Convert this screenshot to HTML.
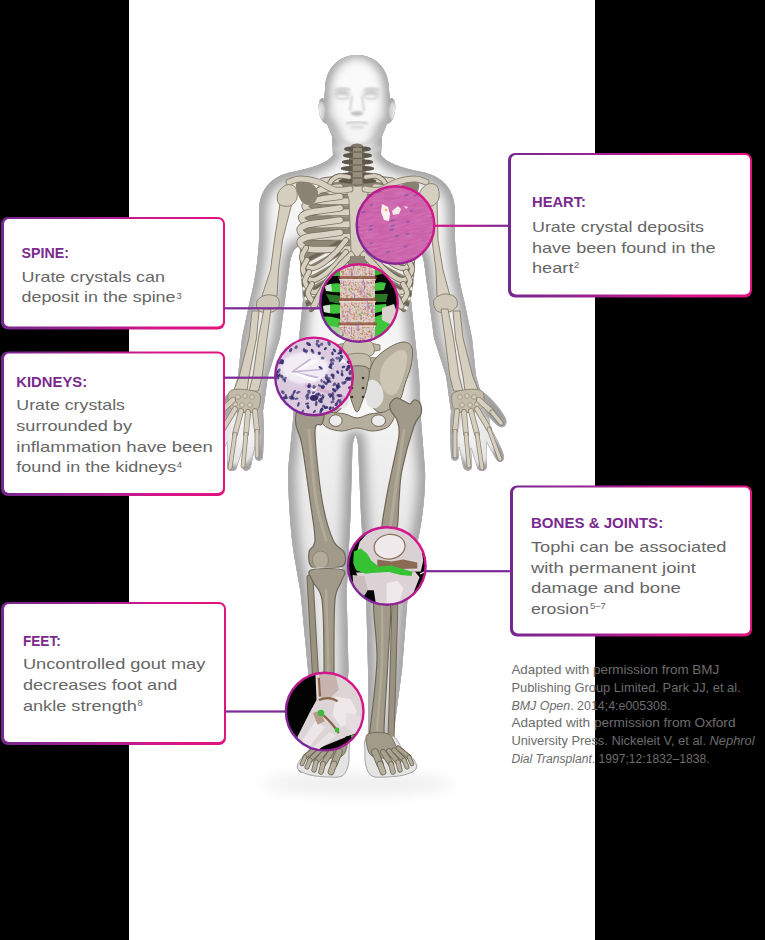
<!DOCTYPE html>
<html><head><meta charset="utf-8"><style>
html,body{margin:0;padding:0;background:#000;width:765px;height:940px;overflow:hidden}
svg{display:block;font-family:"Liberation Sans", sans-serif}
</style></head><body>
<svg width="765" height="940" viewBox="0 0 765 940"><defs><linearGradient id="gH" gradientUnits="userSpaceOnUse" x1="508" y1="0" x2="752" y2="0"><stop offset="0" stop-color="#76288f"/><stop offset="0.35" stop-color="#9a2290"/><stop offset="0.7" stop-color="#d6168a"/><stop offset="1" stop-color="#e0137f"/></linearGradient><linearGradient id="gS" gradientUnits="userSpaceOnUse" x1="1" y1="0" x2="225" y2="0"><stop offset="0" stop-color="#76288f"/><stop offset="0.35" stop-color="#9a2290"/><stop offset="0.7" stop-color="#d6168a"/><stop offset="1" stop-color="#e0137f"/></linearGradient><linearGradient id="gK" gradientUnits="userSpaceOnUse" x1="1" y1="0" x2="225" y2="0"><stop offset="0" stop-color="#76288f"/><stop offset="0.35" stop-color="#9a2290"/><stop offset="0.7" stop-color="#d6168a"/><stop offset="1" stop-color="#e0137f"/></linearGradient><linearGradient id="gB" gradientUnits="userSpaceOnUse" x1="510" y1="0" x2="752" y2="0"><stop offset="0" stop-color="#76288f"/><stop offset="0.35" stop-color="#9a2290"/><stop offset="0.7" stop-color="#d6168a"/><stop offset="1" stop-color="#e0137f"/></linearGradient><linearGradient id="gF" gradientUnits="userSpaceOnUse" x1="1" y1="0" x2="226" y2="0"><stop offset="0" stop-color="#76288f"/><stop offset="0.35" stop-color="#9a2290"/><stop offset="0.7" stop-color="#d6168a"/><stop offset="1" stop-color="#e0137f"/></linearGradient></defs>
<rect x="0" y="0" width="765" height="940" fill="#000"/>
<rect x="129" y="0" width="466" height="940" fill="#fff"/>
<defs>
<clipPath id="bodyclip"><path d="M357,55 C374,55 389,67 389,90 L390,99 C394,96 396,103 395,111 C394,119 391,123 387,124 L382,136 L381,155 C386,163 402,168 422,172 C442,176 454,188 455,210 L455,240 C456,262 460,285 464,300 L472,338 L476,376 L480,390 C490,396 500,408 505,417 C508,423 506,428 500,427 C496,425 492,420 489,417 L490,426 C495,436 502,448 504,456 C505,462 499,464 496,459 L487,443 L487,466 C487,472 478,473 477,467 L471,448 L472,467 C471,472 464,472 463,466 L459,447 L459,457 C458,462 451,462 451,456 L450,430 L451,411 C449,400 448,388 446,376 L434,338 L429,300 L424,262 C422,252 418,246 414,246 L411,300 L415,338 L419,376 L421,420 L425,470 C426,490 422,530 414,555 L408,593 L402,670 L393,738 C400,748 408,756 414,764 C417,770 414,773 408,773 L372,773 C369,773 368,770 369,760 L368,738 L368,670 L366,593 L361,516 L358,445 C357,437 355.5,434 354.5,437 L352.5,445 L350.5,516 L346.6,593 L348.5,670 L344,738 C345,750 346,760 345,768 C345,772 342,773 339,773 L303,773 C297,773 297,768 301,762 C306,754 312,746 314,738 L308,670 L300.6,593 L294,555 C290,530 288,490 288,470 L293,420 L295,376 L299,338 L303,300 L300,246 C296,246 292,252 290,262 L285,300 L280,338 L268,376 C266,388 265,400 263,411 L264,430 L263,456 C263,462 256,462 255,457 L255,447 L251,466 C250,472 243,472 242,467 L243,448 L237,467 C236,473 227,472 227,466 L227,443 L218,459 C215,464 209,462 210,456 C212,448 219,436 224,426 L225,417 C222,420 218,425 214,427 C208,428 206,423 209,417 C214,408 224,396 234,390 L238,376 L242,338 L250,300 C254,285 258,262 259,240 L259,210 C260,188 272,176 292,172 C312,168 328,163 333,155 L332,136 L327,124 C323,123 320,119 319,111 C318,103 320,96 324,99 L325,90 C325,67 340,55 357,55 Z"/></clipPath>
<filter id="blur4" x="-20%" y="-20%" width="140%" height="140%"><feGaussianBlur stdDeviation="6"/></filter>
<filter id="blur2" x="-20%" y="-20%" width="140%" height="140%"><feGaussianBlur stdDeviation="2"/></filter>
<filter id="blur8" x="-50%" y="-50%" width="200%" height="200%"><feGaussianBlur stdDeviation="7"/></filter>
</defs>
<ellipse cx="357" cy="784" rx="95" ry="11" fill="#efefef" filter="url(#blur8)"/>
<g clip-path="url(#bodyclip)">
<linearGradient id="legshade" gradientUnits="userSpaceOnUse" x1="0" y1="400" x2="0" y2="520"><stop offset="0" stop-color="#000" stop-opacity="0"/><stop offset="1" stop-color="#000" stop-opacity="0.05"/></linearGradient>
<rect x="200" y="40" width="320" height="760" fill="#f5f5f5"/>
<rect x="200" y="400" width="320" height="400" fill="url(#legshade)"/>
<path d="M357,55 C374,55 389,67 389,90 L390,99 C394,96 396,103 395,111 C394,119 391,123 387,124 L382,136 L381,155 C386,163 402,168 422,172 C442,176 454,188 455,210 L455,240 C456,262 460,285 464,300 L472,338 L476,376 L480,390 C490,396 500,408 505,417 C508,423 506,428 500,427 C496,425 492,420 489,417 L490,426 C495,436 502,448 504,456 C505,462 499,464 496,459 L487,443 L487,466 C487,472 478,473 477,467 L471,448 L472,467 C471,472 464,472 463,466 L459,447 L459,457 C458,462 451,462 451,456 L450,430 L451,411 C449,400 448,388 446,376 L434,338 L429,300 L424,262 C422,252 418,246 414,246 L411,300 L415,338 L419,376 L421,420 L425,470 C426,490 422,530 414,555 L408,593 L402,670 L393,738 C400,748 408,756 414,764 C417,770 414,773 408,773 L372,773 C369,773 368,770 369,760 L368,738 L368,670 L366,593 L361,516 L358,445 C357,437 355.5,434 354.5,437 L352.5,445 L350.5,516 L346.6,593 L348.5,670 L344,738 C345,750 346,760 345,768 C345,772 342,773 339,773 L303,773 C297,773 297,768 301,762 C306,754 312,746 314,738 L308,670 L300.6,593 L294,555 C290,530 288,490 288,470 L293,420 L295,376 L299,338 L303,300 L300,246 C296,246 292,252 290,262 L285,300 L280,338 L268,376 C266,388 265,400 263,411 L264,430 L263,456 C263,462 256,462 255,457 L255,447 L251,466 C250,472 243,472 242,467 L243,448 L237,467 C236,473 227,472 227,466 L227,443 L218,459 C215,464 209,462 210,456 C212,448 219,436 224,426 L225,417 C222,420 218,425 214,427 C208,428 206,423 209,417 C214,408 224,396 234,390 L238,376 L242,338 L250,300 C254,285 258,262 259,240 L259,210 C260,188 272,176 292,172 C312,168 328,163 333,155 L332,136 L327,124 C323,123 320,119 319,111 C318,103 320,96 324,99 L325,90 C325,67 340,55 357,55 Z" fill="none" stroke="#999999" stroke-width="14" filter="url(#blur4)"/>
<path d="M357,55 C374,55 389,67 389,90 L390,99 C394,96 396,103 395,111 C394,119 391,123 387,124 L382,136 L381,155 C386,163 402,168 422,172 C442,176 454,188 455,210 L455,240 C456,262 460,285 464,300 L472,338 L476,376 L480,390 C490,396 500,408 505,417 C508,423 506,428 500,427 C496,425 492,420 489,417 L490,426 C495,436 502,448 504,456 C505,462 499,464 496,459 L487,443 L487,466 C487,472 478,473 477,467 L471,448 L472,467 C471,472 464,472 463,466 L459,447 L459,457 C458,462 451,462 451,456 L450,430 L451,411 C449,400 448,388 446,376 L434,338 L429,300 L424,262 C422,252 418,246 414,246 L411,300 L415,338 L419,376 L421,420 L425,470 C426,490 422,530 414,555 L408,593 L402,670 L393,738 C400,748 408,756 414,764 C417,770 414,773 408,773 L372,773 C369,773 368,770 369,760 L368,738 L368,670 L366,593 L361,516 L358,445 C357,437 355.5,434 354.5,437 L352.5,445 L350.5,516 L346.6,593 L348.5,670 L344,738 C345,750 346,760 345,768 C345,772 342,773 339,773 L303,773 C297,773 297,768 301,762 C306,754 312,746 314,738 L308,670 L300.6,593 L294,555 C290,530 288,490 288,470 L293,420 L295,376 L299,338 L303,300 L300,246 C296,246 292,252 290,262 L285,300 L280,338 L268,376 C266,388 265,400 263,411 L264,430 L263,456 C263,462 256,462 255,457 L255,447 L251,466 C250,472 243,472 242,467 L243,448 L237,467 C236,473 227,472 227,466 L227,443 L218,459 C215,464 209,462 210,456 C212,448 219,436 224,426 L225,417 C222,420 218,425 214,427 C208,428 206,423 209,417 C214,408 224,396 234,390 L238,376 L242,338 L250,300 C254,285 258,262 259,240 L259,210 C260,188 272,176 292,172 C312,168 328,163 333,155 L332,136 L327,124 C323,123 320,119 319,111 C318,103 320,96 324,99 L325,90 C325,67 340,55 357,55 Z" fill="none" stroke="#a8a8a8" stroke-width="1.6"/>

<g id="handwash">
<ellipse cx="476" cy="440" rx="20" ry="26" fill="#f4f4f4" filter="url(#blur2)" opacity="0.85"/>
<ellipse cx="238" cy="440" rx="20" ry="26" fill="#f4f4f4" filter="url(#blur2)" opacity="0.85"/>
<path d="M357,55 C374,55 389,67 389,90 L390,99 C394,96 396,103 395,111 C394,119 391,123 387,124 L382,136 L381,155 C386,163 402,168 422,172 C442,176 454,188 455,210 L455,240 C456,262 460,285 464,300 L472,338 L476,376 L480,390 C490,396 500,408 505,417 C508,423 506,428 500,427 C496,425 492,420 489,417 L490,426 C495,436 502,448 504,456 C505,462 499,464 496,459 L487,443 L487,466 C487,472 478,473 477,467 L471,448 L472,467 C471,472 464,472 463,466 L459,447 L459,457 C458,462 451,462 451,456 L450,430 L451,411 C449,400 448,388 446,376 L434,338 L429,300 L424,262 C422,252 418,246 414,246 L411,300 L415,338 L419,376 L421,420 L425,470 C426,490 422,530 414,555 L408,593 L402,670 L393,738 C400,748 408,756 414,764 C417,770 414,773 408,773 L372,773 C369,773 368,770 369,760 L368,738 L368,670 L366,593 L361,516 L358,445 C357,437 355.5,434 354.5,437 L352.5,445 L350.5,516 L346.6,593 L348.5,670 L344,738 C345,750 346,760 345,768 C345,772 342,773 339,773 L303,773 C297,773 297,768 301,762 C306,754 312,746 314,738 L308,670 L300.6,593 L294,555 C290,530 288,490 288,470 L293,420 L295,376 L299,338 L303,300 L300,246 C296,246 292,252 290,262 L285,300 L280,338 L268,376 C266,388 265,400 263,411 L264,430 L263,456 C263,462 256,462 255,457 L255,447 L251,466 C250,472 243,472 242,467 L243,448 L237,467 C236,473 227,472 227,466 L227,443 L218,459 C215,464 209,462 210,456 C212,448 219,436 224,426 L225,417 C222,420 218,425 214,427 C208,428 206,423 209,417 C214,408 224,396 234,390 L238,376 L242,338 L250,300 C254,285 258,262 259,240 L259,210 C260,188 272,176 292,172 C312,168 328,163 333,155 L332,136 L327,124 C323,123 320,119 319,111 C318,103 320,96 324,99 L325,90 C325,67 340,55 357,55 Z" fill="none" stroke="#b0b0b0" stroke-width="1.2"/>
</g>
<g id="face">
<ellipse cx="357" cy="92" rx="24" ry="34" fill="#fafafa" filter="url(#blur4)"/>
<ellipse cx="357" cy="215" rx="42" ry="50" fill="#f8f8f8" filter="url(#blur4)" opacity="0.8"/>
<ellipse cx="357" cy="380" rx="45" ry="45" fill="#f8f8f8" filter="url(#blur4)" opacity="0.7"/>
<filter id="fb1" x="-50%" y="-50%" width="200%" height="200%"><feGaussianBlur stdDeviation="1.2"/></filter>
<filter id="fb2" x="-50%" y="-50%" width="200%" height="200%"><feGaussianBlur stdDeviation="2.2"/></filter>
<path d="M327,120 Q334,142 357,147 Q380,142 387,120" fill="none" stroke="#c2c2c2" stroke-width="3" filter="url(#fb2)"/>
<path d="M333,150 Q357,160 381,150 L381,146 Q357,152 333,146 Z" fill="#d0d0d0" filter="url(#fb2)"/>
<ellipse cx="342" cy="94" rx="8" ry="5" fill="#cacaca" filter="url(#fb2)"/>
<ellipse cx="371" cy="94" rx="8" ry="5" fill="#cacaca" filter="url(#fb2)"/>
<ellipse cx="342" cy="97" rx="5.5" ry="2.2" fill="#f4f4f4" filter="url(#fb1)"/>
<ellipse cx="371" cy="97" rx="5.5" ry="2.2" fill="#f4f4f4" filter="url(#fb1)"/>
<path d="M352,96 L350,111 M362,96 L364,111" stroke="#c8c8c8" stroke-width="1.6" filter="url(#fb1)"/>
<ellipse cx="357" cy="113.5" rx="6.5" ry="2.2" fill="#bcbcbc" filter="url(#fb1)"/>
<path d="M346,123.5 Q357,121 368,123.5" stroke="#b4b4b4" stroke-width="1.4" fill="none" filter="url(#fb1)"/>
<ellipse cx="357" cy="127" rx="8" ry="2" fill="#dedede" filter="url(#fb1)"/>
<ellipse cx="321" cy="111" rx="3.2" ry="9" fill="#ededed" filter="url(#fb1)"/>
<ellipse cx="393" cy="111" rx="3.2" ry="9" fill="#ededed" filter="url(#fb1)"/>
<path d="M321,103 Q323,111 322,119 M393,103 Q391,111 392,119" stroke="#c4c4c4" stroke-width="1.4" fill="none" filter="url(#fb1)"/>
<path d="M335,90 Q342,87 350,90 M364,90 Q372,87 379,90" stroke="#bdbdbd" stroke-width="1.6" fill="none" filter="url(#fb1)"/>
<path d="M337,98 Q342,100 348,98 M366,98 Q371,100 377,98" stroke="#c6c6c6" stroke-width="1.2" fill="none" filter="url(#fb1)"/>
</g>

</g>

<g id="bones">
<clipPath id="cageclip"><path d="M357.0,180.0 C350.5,180.0 343.8,177.3 338.0,178.0 C332.2,178.7 327.0,180.3 322.0,184.0 C317.0,187.7 311.5,192.3 308.0,200.0 C304.5,207.7 302.3,219.7 301.0,230.0 C299.7,240.3 299.7,251.7 300.0,262.0 C300.3,272.3 301.3,283.7 303.0,292.0 C304.7,300.3 306.8,310.7 310.0,312.0 C313.2,313.3 317.0,305.7 322.0,300.0 C327.0,294.3 334.2,284.3 340.0,278.0 C345.8,271.7 351.2,262.0 357.0,262.0 C362.8,262.0 369.0,271.7 375.0,278.0 C381.0,284.3 388.0,294.3 393.0,300.0 C398.0,305.7 401.8,313.3 405.0,312.0 C408.2,310.7 410.3,300.3 412.0,292.0 C413.7,283.7 414.7,272.3 415.0,262.0 C415.3,251.7 415.3,240.3 414.0,230.0 C412.7,219.7 410.5,207.7 407.0,200.0 C403.5,192.3 398.0,187.7 393.0,184.0 C388.0,180.3 383.0,178.7 377.0,178.0 C371.0,177.3 363.5,180.0 357.0,180.0 Z"/></clipPath><path d="M357.0,180.0 C350.5,180.0 343.8,177.3 338.0,178.0 C332.2,178.7 327.0,180.3 322.0,184.0 C317.0,187.7 311.5,192.3 308.0,200.0 C304.5,207.7 302.3,219.7 301.0,230.0 C299.7,240.3 299.7,251.7 300.0,262.0 C300.3,272.3 301.3,283.7 303.0,292.0 C304.7,300.3 306.8,310.7 310.0,312.0 C313.2,313.3 317.0,305.7 322.0,300.0 C327.0,294.3 334.2,284.3 340.0,278.0 C345.8,271.7 351.2,262.0 357.0,262.0 C362.8,262.0 369.0,271.7 375.0,278.0 C381.0,284.3 388.0,294.3 393.0,300.0 C398.0,305.7 401.8,313.3 405.0,312.0 C408.2,310.7 410.3,300.3 412.0,292.0 C413.7,283.7 414.7,272.3 415.0,262.0 C415.3,251.7 415.3,240.3 414.0,230.0 C412.7,219.7 410.5,207.7 407.0,200.0 C403.5,192.3 398.0,187.7 393.0,184.0 C388.0,180.3 383.0,178.7 377.0,178.0 C371.0,177.3 363.5,180.0 357.0,180.0 Z" fill="#8e8776" stroke="none" stroke-width="0" stroke-linejoin="round" />
<g clip-path="url(#cageclip)"><path d="M303.0,262.0 C306.2,260.3 314.8,256.0 322.0,252.0 C329.2,248.0 342.0,240.3 346.0,238.0 " fill="none" stroke="#6c6555" stroke-width="3.5" stroke-linecap="round" />
<path d="M412.0,262.0 C408.8,260.3 400.2,256.0 393.0,252.0 C385.8,248.0 373.0,240.3 369.0,238.0 " fill="none" stroke="#6c6555" stroke-width="3.5" stroke-linecap="round" />
<path d="M303.0,267.0 C306.2,265.3 314.8,261.0 322.0,257.0 C329.2,253.0 342.0,245.3 346.0,243.0 " fill="none" stroke="#efede8" stroke-width="3" stroke-linecap="round" />
<path d="M412.0,267.0 C408.8,265.3 400.2,261.0 393.0,257.0 C385.8,253.0 373.0,245.3 369.0,243.0 " fill="none" stroke="#efede8" stroke-width="3" stroke-linecap="round" />
<path d="M303.0,273.0 C306.2,271.3 314.8,267.0 322.0,263.0 C329.2,259.0 342.0,251.3 346.0,249.0 " fill="none" stroke="#6c6555" stroke-width="3.5" stroke-linecap="round" />
<path d="M412.0,273.0 C408.8,271.3 400.2,267.0 393.0,263.0 C385.8,259.0 373.0,251.3 369.0,249.0 " fill="none" stroke="#6c6555" stroke-width="3.5" stroke-linecap="round" />
<path d="M303.0,278.0 C306.2,276.3 314.8,272.0 322.0,268.0 C329.2,264.0 342.0,256.3 346.0,254.0 " fill="none" stroke="#efede8" stroke-width="3" stroke-linecap="round" />
<path d="M412.0,278.0 C408.8,276.3 400.2,272.0 393.0,268.0 C385.8,264.0 373.0,256.3 369.0,254.0 " fill="none" stroke="#efede8" stroke-width="3" stroke-linecap="round" />
<path d="M303.0,284.0 C306.2,282.3 314.8,278.0 322.0,274.0 C329.2,270.0 342.0,262.3 346.0,260.0 " fill="none" stroke="#6c6555" stroke-width="3.5" stroke-linecap="round" />
<path d="M412.0,284.0 C408.8,282.3 400.2,278.0 393.0,274.0 C385.8,270.0 373.0,262.3 369.0,260.0 " fill="none" stroke="#6c6555" stroke-width="3.5" stroke-linecap="round" />
<path d="M303.0,289.0 C306.2,287.3 314.8,283.0 322.0,279.0 C329.2,275.0 342.0,267.3 346.0,265.0 " fill="none" stroke="#efede8" stroke-width="3" stroke-linecap="round" />
<path d="M412.0,289.0 C408.8,287.3 400.2,283.0 393.0,279.0 C385.8,275.0 373.0,267.3 369.0,265.0 " fill="none" stroke="#efede8" stroke-width="3" stroke-linecap="round" />
<path d="M303.0,295.0 C306.2,293.3 314.8,289.0 322.0,285.0 C329.2,281.0 342.0,273.3 346.0,271.0 " fill="none" stroke="#6c6555" stroke-width="3.5" stroke-linecap="round" />
<path d="M412.0,295.0 C408.8,293.3 400.2,289.0 393.0,285.0 C385.8,281.0 373.0,273.3 369.0,271.0 " fill="none" stroke="#6c6555" stroke-width="3.5" stroke-linecap="round" />
<path d="M303.0,300.0 C306.2,298.3 314.8,294.0 322.0,290.0 C329.2,286.0 342.0,278.3 346.0,276.0 " fill="none" stroke="#efede8" stroke-width="3" stroke-linecap="round" />
<path d="M412.0,300.0 C408.8,298.3 400.2,294.0 393.0,290.0 C385.8,286.0 373.0,278.3 369.0,276.0 " fill="none" stroke="#efede8" stroke-width="3" stroke-linecap="round" />
<path d="M303.0,306.0 C306.2,304.3 314.8,300.0 322.0,296.0 C329.2,292.0 342.0,284.3 346.0,282.0 " fill="none" stroke="#6c6555" stroke-width="3.5" stroke-linecap="round" />
<path d="M412.0,306.0 C408.8,304.3 400.2,300.0 393.0,296.0 C385.8,292.0 373.0,284.3 369.0,282.0 " fill="none" stroke="#6c6555" stroke-width="3.5" stroke-linecap="round" />
<path d="M303.0,311.0 C306.2,309.3 314.8,305.0 322.0,301.0 C329.2,297.0 342.0,289.3 346.0,287.0 " fill="none" stroke="#efede8" stroke-width="3" stroke-linecap="round" />
<path d="M412.0,311.0 C408.8,309.3 400.2,305.0 393.0,301.0 C385.8,297.0 373.0,289.3 369.0,287.0 " fill="none" stroke="#efede8" stroke-width="3" stroke-linecap="round" />
<path d="M303.0,317.0 C306.2,315.3 314.8,311.0 322.0,307.0 C329.2,303.0 342.0,295.3 346.0,293.0 " fill="none" stroke="#6c6555" stroke-width="3.5" stroke-linecap="round" />
<path d="M412.0,317.0 C408.8,315.3 400.2,311.0 393.0,307.0 C385.8,303.0 373.0,295.3 369.0,293.0 " fill="none" stroke="#6c6555" stroke-width="3.5" stroke-linecap="round" />
<path d="M303.0,322.0 C306.2,320.3 314.8,316.0 322.0,312.0 C329.2,308.0 342.0,300.3 346.0,298.0 " fill="none" stroke="#efede8" stroke-width="3" stroke-linecap="round" />
<path d="M412.0,322.0 C408.8,320.3 400.2,316.0 393.0,312.0 C385.8,308.0 373.0,300.3 369.0,298.0 " fill="none" stroke="#efede8" stroke-width="3" stroke-linecap="round" />
</g><path d="M334,204 L348,204" stroke="#efeeea" stroke-width="2.4"/>
<path d="M381.0,204 L367.0,204" stroke="#efeeea" stroke-width="2.4"/>
<path d="M332,215 L348,215" stroke="#efeeea" stroke-width="2.4"/>
<path d="M383.0,215 L367.0,215" stroke="#efeeea" stroke-width="2.4"/>
<path d="M330,227 L348,227" stroke="#efeeea" stroke-width="2.4"/>
<path d="M385.0,227 L367.0,227" stroke="#efeeea" stroke-width="2.4"/>
<path d="M332,239 L348,239" stroke="#efeeea" stroke-width="2.4"/>
<path d="M383.0,239 L367.0,239" stroke="#efeeea" stroke-width="2.4"/>
<path d="M351.0,191.0 C347.8,191.1 335.5,191.5 332.0,191.5 C328.5,191.5 331.7,191.7 330.0,191.0 C328.3,190.3 322.3,188.3 322.0,187.2 C321.7,186.0 328.0,184.9 328.0,184.0 C328.0,183.1 320.0,182.3 322.0,181.5 C324.0,180.7 337.0,179.4 340.0,179.0 " fill="none" stroke="#7a7363" stroke-width="7.2" stroke-linecap="round" />
<path d="M351.0,191.0 C347.8,191.1 335.5,191.5 332.0,191.5 C328.5,191.5 331.7,191.7 330.0,191.0 C328.3,190.3 322.3,188.3 322.0,187.2 C321.7,186.0 328.0,184.9 328.0,184.0 C328.0,183.1 320.0,182.3 322.0,181.5 C324.0,180.7 337.0,179.4 340.0,179.0 " fill="none" stroke="#dad3c5" stroke-width="5.6" stroke-linecap="round" />
<path d="M364.0,191.0 C367.2,191.1 379.5,191.5 383.0,191.5 C386.5,191.5 383.3,191.7 385.0,191.0 C386.7,190.3 392.7,188.3 393.0,187.2 C393.3,186.0 387.0,184.9 387.0,184.0 C387.0,183.1 395.0,182.3 393.0,181.5 C391.0,180.7 378.0,179.4 375.0,179.0 " fill="none" stroke="#7a7363" stroke-width="7.2" stroke-linecap="round" />
<path d="M364.0,191.0 C367.2,191.1 379.5,191.5 383.0,191.5 C386.5,191.5 383.3,191.7 385.0,191.0 C386.7,190.3 392.7,188.3 393.0,187.2 C393.3,186.0 387.0,184.9 387.0,184.0 C387.0,183.1 395.0,182.3 393.0,181.5 C391.0,180.7 378.0,179.4 375.0,179.0 " fill="none" stroke="#dad3c5" stroke-width="5.6" stroke-linecap="round" />
<path d="M351.0,201.0 C347.8,201.1 337.3,201.5 332.0,201.5 C326.7,201.5 322.5,201.9 319.0,201.0 C315.5,200.1 311.3,197.6 311.0,196.1 C310.7,194.6 315.2,193.1 317.0,192.0 C318.8,190.9 318.2,190.3 322.0,189.5 C325.8,188.7 337.0,187.4 340.0,187.0 " fill="none" stroke="#7a7363" stroke-width="7.2" stroke-linecap="round" />
<path d="M351.0,201.0 C347.8,201.1 337.3,201.5 332.0,201.5 C326.7,201.5 322.5,201.9 319.0,201.0 C315.5,200.1 311.3,197.6 311.0,196.1 C310.7,194.6 315.2,193.1 317.0,192.0 C318.8,190.9 318.2,190.3 322.0,189.5 C325.8,188.7 337.0,187.4 340.0,187.0 " fill="none" stroke="#dad3c5" stroke-width="5.6" stroke-linecap="round" />
<path d="M364.0,201.0 C367.2,201.1 377.7,201.5 383.0,201.5 C388.3,201.5 392.5,201.9 396.0,201.0 C399.5,200.1 403.7,197.6 404.0,196.1 C404.3,194.6 399.8,193.1 398.0,192.0 C396.2,190.9 396.8,190.3 393.0,189.5 C389.2,188.7 378.0,187.4 375.0,187.0 " fill="none" stroke="#7a7363" stroke-width="7.2" stroke-linecap="round" />
<path d="M364.0,201.0 C367.2,201.1 377.7,201.5 383.0,201.5 C388.3,201.5 392.5,201.9 396.0,201.0 C399.5,200.1 403.7,197.6 404.0,196.1 C404.3,194.6 399.8,193.1 398.0,192.0 C396.2,190.9 396.8,190.3 393.0,189.5 C389.2,188.7 378.0,187.4 375.0,187.0 " fill="none" stroke="#dad3c5" stroke-width="5.6" stroke-linecap="round" />
<path d="M351.0,212.0 C347.8,212.1 338.3,212.5 332.0,212.5 C325.7,212.5 317.5,213.0 313.0,212.0 C308.5,211.0 305.3,208.0 305.0,206.2 C304.7,204.5 308.2,202.7 311.0,201.5 C313.8,200.3 317.2,199.8 322.0,199.0 C326.8,198.2 337.0,196.9 340.0,196.5 " fill="none" stroke="#7a7363" stroke-width="7.2" stroke-linecap="round" />
<path d="M351.0,212.0 C347.8,212.1 338.3,212.5 332.0,212.5 C325.7,212.5 317.5,213.0 313.0,212.0 C308.5,211.0 305.3,208.0 305.0,206.2 C304.7,204.5 308.2,202.7 311.0,201.5 C313.8,200.3 317.2,199.8 322.0,199.0 C326.8,198.2 337.0,196.9 340.0,196.5 " fill="none" stroke="#dad3c5" stroke-width="5.6" stroke-linecap="round" />
<path d="M364.0,212.0 C367.2,212.1 376.7,212.5 383.0,212.5 C389.3,212.5 397.5,213.0 402.0,212.0 C406.5,211.0 409.7,208.0 410.0,206.2 C410.3,204.5 406.8,202.7 404.0,201.5 C401.2,200.3 397.8,199.8 393.0,199.0 C388.2,198.2 378.0,196.9 375.0,196.5 " fill="none" stroke="#7a7363" stroke-width="7.2" stroke-linecap="round" />
<path d="M364.0,212.0 C367.2,212.1 376.7,212.5 383.0,212.5 C389.3,212.5 397.5,213.0 402.0,212.0 C406.5,211.0 409.7,208.0 410.0,206.2 C410.3,204.5 406.8,202.7 404.0,201.5 C401.2,200.3 397.8,199.8 393.0,199.0 C388.2,198.2 378.0,196.9 375.0,196.5 " fill="none" stroke="#dad3c5" stroke-width="5.6" stroke-linecap="round" />
<path d="M351.0,224.0 C347.8,224.1 338.9,224.5 332.0,224.5 C325.1,224.5 314.6,225.1 309.5,224.0 C304.4,222.9 301.8,219.8 301.5,217.9 C301.2,216.1 304.1,214.2 307.5,213.0 C310.9,211.8 316.6,211.3 322.0,210.5 C327.4,209.7 337.0,208.4 340.0,208.0 " fill="none" stroke="#7a7363" stroke-width="7.2" stroke-linecap="round" />
<path d="M351.0,224.0 C347.8,224.1 338.9,224.5 332.0,224.5 C325.1,224.5 314.6,225.1 309.5,224.0 C304.4,222.9 301.8,219.8 301.5,217.9 C301.2,216.1 304.1,214.2 307.5,213.0 C310.9,211.8 316.6,211.3 322.0,210.5 C327.4,209.7 337.0,208.4 340.0,208.0 " fill="none" stroke="#dad3c5" stroke-width="5.6" stroke-linecap="round" />
<path d="M364.0,224.0 C367.2,224.1 376.1,224.5 383.0,224.5 C389.9,224.5 400.4,225.1 405.5,224.0 C410.6,222.9 413.2,219.8 413.5,217.9 C413.8,216.1 410.9,214.2 407.5,213.0 C404.1,211.8 398.4,211.3 393.0,210.5 C387.6,209.7 378.0,208.4 375.0,208.0 " fill="none" stroke="#7a7363" stroke-width="7.2" stroke-linecap="round" />
<path d="M364.0,224.0 C367.2,224.1 376.1,224.5 383.0,224.5 C389.9,224.5 400.4,225.1 405.5,224.0 C410.6,222.9 413.2,219.8 413.5,217.9 C413.8,216.1 410.9,214.2 407.5,213.0 C404.1,211.8 398.4,211.3 393.0,210.5 C387.6,209.7 378.0,208.4 375.0,208.0 " fill="none" stroke="#dad3c5" stroke-width="5.6" stroke-linecap="round" />
<path d="M351.0,236.5 C347.8,236.6 339.2,237.0 332.0,237.0 C324.8,237.0 313.3,237.6 308.0,236.5 C302.7,235.4 300.3,232.1 300.0,230.2 C299.7,228.3 302.3,226.3 306.0,225.0 C309.7,223.7 316.3,223.3 322.0,222.5 C327.7,221.7 337.0,220.4 340.0,220.0 " fill="none" stroke="#7a7363" stroke-width="7.2" stroke-linecap="round" />
<path d="M351.0,236.5 C347.8,236.6 339.2,237.0 332.0,237.0 C324.8,237.0 313.3,237.6 308.0,236.5 C302.7,235.4 300.3,232.1 300.0,230.2 C299.7,228.3 302.3,226.3 306.0,225.0 C309.7,223.7 316.3,223.3 322.0,222.5 C327.7,221.7 337.0,220.4 340.0,220.0 " fill="none" stroke="#dad3c5" stroke-width="5.6" stroke-linecap="round" />
<path d="M364.0,236.5 C367.2,236.6 375.8,237.0 383.0,237.0 C390.2,237.0 401.7,237.6 407.0,236.5 C412.3,235.4 414.7,232.1 415.0,230.2 C415.3,228.3 412.7,226.3 409.0,225.0 C405.3,223.7 398.7,223.3 393.0,222.5 C387.3,221.7 378.0,220.4 375.0,220.0 " fill="none" stroke="#7a7363" stroke-width="7.2" stroke-linecap="round" />
<path d="M364.0,236.5 C367.2,236.6 375.8,237.0 383.0,237.0 C390.2,237.0 401.7,237.6 407.0,236.5 C412.3,235.4 414.7,232.1 415.0,230.2 C415.3,228.3 412.7,226.3 409.0,225.0 C405.3,223.7 398.7,223.3 393.0,222.5 C387.3,221.7 378.0,220.4 375.0,220.0 " fill="none" stroke="#dad3c5" stroke-width="5.6" stroke-linecap="round" />
<path d="M351.0,249.0 C347.8,249.1 339.2,249.5 332.0,249.5 C324.8,249.5 313.3,250.1 308.0,249.0 C302.7,247.9 300.3,244.6 300.0,242.7 C299.7,240.8 302.3,238.8 306.0,237.5 C309.7,236.2 316.3,235.8 322.0,235.0 C327.7,234.2 337.0,232.9 340.0,232.5 " fill="none" stroke="#7a7363" stroke-width="7.2" stroke-linecap="round" />
<path d="M351.0,249.0 C347.8,249.1 339.2,249.5 332.0,249.5 C324.8,249.5 313.3,250.1 308.0,249.0 C302.7,247.9 300.3,244.6 300.0,242.7 C299.7,240.8 302.3,238.8 306.0,237.5 C309.7,236.2 316.3,235.8 322.0,235.0 C327.7,234.2 337.0,232.9 340.0,232.5 " fill="none" stroke="#dad3c5" stroke-width="5.6" stroke-linecap="round" />
<path d="M364.0,249.0 C367.2,249.1 375.8,249.5 383.0,249.5 C390.2,249.5 401.7,250.1 407.0,249.0 C412.3,247.9 414.7,244.6 415.0,242.7 C415.3,240.8 412.7,238.8 409.0,237.5 C405.3,236.2 398.7,235.8 393.0,235.0 C387.3,234.2 378.0,232.9 375.0,232.5 " fill="none" stroke="#7a7363" stroke-width="7.2" stroke-linecap="round" />
<path d="M364.0,249.0 C367.2,249.1 375.8,249.5 383.0,249.5 C390.2,249.5 401.7,250.1 407.0,249.0 C412.3,247.9 414.7,244.6 415.0,242.7 C415.3,240.8 412.7,238.8 409.0,237.5 C405.3,236.2 398.7,235.8 393.0,235.0 C387.3,234.2 378.0,232.9 375.0,232.5 " fill="none" stroke="#dad3c5" stroke-width="5.6" stroke-linecap="round" />
<path d="M306.0,248.0 C305.3,249.7 301.3,254.7 302.0,258.0 C302.7,261.3 306.7,267.0 310.0,268.0 C313.3,269.0 317.7,266.7 322.0,264.0 C326.3,261.3 332.0,256.0 336.0,252.0 C340.0,248.0 344.3,242.0 346.0,240.0 " fill="none" stroke="#756e5e" stroke-width="6" stroke-linecap="round" />
<path d="M306.0,248.0 C305.3,249.7 301.3,254.7 302.0,258.0 C302.7,261.3 306.7,267.0 310.0,268.0 C313.3,269.0 317.7,266.7 322.0,264.0 C326.3,261.3 332.0,256.0 336.0,252.0 C340.0,248.0 344.3,242.0 346.0,240.0 " fill="none" stroke="#d6cfc0" stroke-width="4.4" stroke-linecap="round" />
<path d="M409.0,248.0 C409.7,249.7 413.7,254.7 413.0,258.0 C412.3,261.3 408.3,267.0 405.0,268.0 C401.7,269.0 397.3,266.7 393.0,264.0 C388.7,261.3 383.0,256.0 379.0,252.0 C375.0,248.0 370.7,242.0 369.0,240.0 " fill="none" stroke="#756e5e" stroke-width="6" stroke-linecap="round" />
<path d="M409.0,248.0 C409.7,249.7 413.7,254.7 413.0,258.0 C412.3,261.3 408.3,267.0 405.0,268.0 C401.7,269.0 397.3,266.7 393.0,264.0 C388.7,261.3 383.0,256.0 379.0,252.0 C375.0,248.0 370.7,242.0 369.0,240.0 " fill="none" stroke="#d6cfc0" stroke-width="4.4" stroke-linecap="round" />
<path d="M307.0,260.0 C306.3,261.7 302.3,266.7 303.0,270.0 C303.7,273.3 307.8,279.0 311.0,280.0 C314.2,281.0 317.8,278.7 322.0,276.0 C326.2,273.3 332.0,268.0 336.0,264.0 C340.0,260.0 344.3,254.0 346.0,252.0 " fill="none" stroke="#756e5e" stroke-width="6" stroke-linecap="round" />
<path d="M307.0,260.0 C306.3,261.7 302.3,266.7 303.0,270.0 C303.7,273.3 307.8,279.0 311.0,280.0 C314.2,281.0 317.8,278.7 322.0,276.0 C326.2,273.3 332.0,268.0 336.0,264.0 C340.0,260.0 344.3,254.0 346.0,252.0 " fill="none" stroke="#d6cfc0" stroke-width="4.4" stroke-linecap="round" />
<path d="M408.0,260.0 C408.7,261.7 412.7,266.7 412.0,270.0 C411.3,273.3 407.2,279.0 404.0,280.0 C400.8,281.0 397.2,278.7 393.0,276.0 C388.8,273.3 383.0,268.0 379.0,264.0 C375.0,260.0 370.7,254.0 369.0,252.0 " fill="none" stroke="#756e5e" stroke-width="6" stroke-linecap="round" />
<path d="M408.0,260.0 C408.7,261.7 412.7,266.7 412.0,270.0 C411.3,273.3 407.2,279.0 404.0,280.0 C400.8,281.0 397.2,278.7 393.0,276.0 C388.8,273.3 383.0,268.0 379.0,264.0 C375.0,260.0 370.7,254.0 369.0,252.0 " fill="none" stroke="#d6cfc0" stroke-width="4.4" stroke-linecap="round" />
<path d="M309.0,272.0 C308.3,273.7 304.3,278.7 305.0,282.0 C305.7,285.3 310.2,291.0 313.0,292.0 C315.8,293.0 318.2,290.7 322.0,288.0 C325.8,285.3 332.0,280.0 336.0,276.0 C340.0,272.0 344.3,266.0 346.0,264.0 " fill="none" stroke="#756e5e" stroke-width="6" stroke-linecap="round" />
<path d="M309.0,272.0 C308.3,273.7 304.3,278.7 305.0,282.0 C305.7,285.3 310.2,291.0 313.0,292.0 C315.8,293.0 318.2,290.7 322.0,288.0 C325.8,285.3 332.0,280.0 336.0,276.0 C340.0,272.0 344.3,266.0 346.0,264.0 " fill="none" stroke="#d6cfc0" stroke-width="4.4" stroke-linecap="round" />
<path d="M406.0,272.0 C406.7,273.7 410.7,278.7 410.0,282.0 C409.3,285.3 404.8,291.0 402.0,292.0 C399.2,293.0 396.8,290.7 393.0,288.0 C389.2,285.3 383.0,280.0 379.0,276.0 C375.0,272.0 370.7,266.0 369.0,264.0 " fill="none" stroke="#756e5e" stroke-width="6" stroke-linecap="round" />
<path d="M406.0,272.0 C406.7,273.7 410.7,278.7 410.0,282.0 C409.3,285.3 404.8,291.0 402.0,292.0 C399.2,293.0 396.8,290.7 393.0,288.0 C389.2,285.3 383.0,280.0 379.0,276.0 C375.0,272.0 370.7,266.0 369.0,264.0 " fill="none" stroke="#d6cfc0" stroke-width="4.4" stroke-linecap="round" />
<path d="M312.0,284.0 C311.3,285.7 307.3,290.7 308.0,294.0 C308.7,297.3 313.7,303.0 316.0,304.0 C318.3,305.0 318.7,302.7 322.0,300.0 C325.3,297.3 332.0,292.0 336.0,288.0 C340.0,284.0 344.3,278.0 346.0,276.0 " fill="none" stroke="#756e5e" stroke-width="6" stroke-linecap="round" />
<path d="M312.0,284.0 C311.3,285.7 307.3,290.7 308.0,294.0 C308.7,297.3 313.7,303.0 316.0,304.0 C318.3,305.0 318.7,302.7 322.0,300.0 C325.3,297.3 332.0,292.0 336.0,288.0 C340.0,284.0 344.3,278.0 346.0,276.0 " fill="none" stroke="#d6cfc0" stroke-width="4.4" stroke-linecap="round" />
<path d="M403.0,284.0 C403.7,285.7 407.7,290.7 407.0,294.0 C406.3,297.3 401.3,303.0 399.0,304.0 C396.7,305.0 396.3,302.7 393.0,300.0 C389.7,297.3 383.0,292.0 379.0,288.0 C375.0,284.0 370.7,278.0 369.0,276.0 " fill="none" stroke="#756e5e" stroke-width="6" stroke-linecap="round" />
<path d="M403.0,284.0 C403.7,285.7 407.7,290.7 407.0,294.0 C406.3,297.3 401.3,303.0 399.0,304.0 C396.7,305.0 396.3,302.7 393.0,300.0 C389.7,297.3 383.0,292.0 379.0,288.0 C375.0,284.0 370.7,278.0 369.0,276.0 " fill="none" stroke="#d6cfc0" stroke-width="4.4" stroke-linecap="round" />
<path d="M352.0,254.0 C350.0,256.0 344.3,261.0 340.0,266.0 C335.7,271.0 330.3,277.3 326.0,284.0 C321.7,290.7 316.0,302.3 314.0,306.0 " fill="none" stroke="#756e5e" stroke-width="7" stroke-linecap="round" />
<path d="M352.0,254.0 C350.0,256.0 344.3,261.0 340.0,266.0 C335.7,271.0 330.3,277.3 326.0,284.0 C321.7,290.7 316.0,302.3 314.0,306.0 " fill="none" stroke="#d6cfc0" stroke-width="5.4" stroke-linecap="round" />
<path d="M363.0,254.0 C365.0,256.0 370.7,261.0 375.0,266.0 C379.3,271.0 384.7,277.3 389.0,284.0 C393.3,290.7 399.0,302.3 401.0,306.0 " fill="none" stroke="#756e5e" stroke-width="7" stroke-linecap="round" />
<path d="M363.0,254.0 C365.0,256.0 370.7,261.0 375.0,266.0 C379.3,271.0 384.7,277.3 389.0,284.0 C393.3,290.7 399.0,302.3 401.0,306.0 " fill="none" stroke="#d6cfc0" stroke-width="5.4" stroke-linecap="round" />
<path d="M345.0,186.0 L370.0,186.0 L366.0,200.0 L364.0,250.0 L357.0,258.0 L351.0,250.0 L349.0,200.0 Z" fill="#d6cfc0" stroke="#8b8373" stroke-width="1" stroke-linejoin="round" />
<path d="M351.0,146.0 C353.3,142.8 360.7,142.8 363.0,146.0 C365.3,149.2 364.7,158.7 365.0,165.0 C365.3,171.3 367.7,180.8 365.0,184.0 C362.3,187.2 351.7,187.2 349.0,184.0 C346.3,180.8 348.7,171.3 349.0,165.0 C349.3,158.7 348.7,149.2 351.0,146.0 Z" fill="#81786a" stroke="none" stroke-width="0" stroke-linejoin="round" />
<ellipse cx="350.5" cy="149" rx="6.5" ry="2.4" fill="#5e564a"/><ellipse cx="364.5" cy="149" rx="6.5" ry="2.4" fill="#5e564a"/><ellipse cx="350.1" cy="155.5" rx="7.2" ry="2.4" fill="#5e564a"/><ellipse cx="364.9" cy="155.5" rx="7.2" ry="2.4" fill="#5e564a"/><ellipse cx="349.7" cy="162" rx="7.9" ry="2.4" fill="#5e564a"/><ellipse cx="365.3" cy="162" rx="7.9" ry="2.4" fill="#5e564a"/><ellipse cx="349.3" cy="168.5" rx="8.6" ry="2.4" fill="#5e564a"/><ellipse cx="365.7" cy="168.5" rx="8.6" ry="2.4" fill="#5e564a"/><ellipse cx="348.9" cy="175" rx="9.3" ry="2.4" fill="#5e564a"/><ellipse cx="366.1" cy="175" rx="9.3" ry="2.4" fill="#5e564a"/><ellipse cx="348.5" cy="181" rx="10.0" ry="2.4" fill="#5e564a"/><ellipse cx="366.5" cy="181" rx="10.0" ry="2.4" fill="#5e564a"/><path d="M353.0,148.0 L362.0,148.0 L362.5,184.0 L352.5,184.0 Z" fill="#978d7c" stroke="none" stroke-width="0" stroke-linejoin="round" />
<path d="M352,152 L363,152" stroke="#6a6255" stroke-width="1.2"/><path d="M352,158.5 L363,158.5" stroke="#6a6255" stroke-width="1.2"/><path d="M352,165 L363,165" stroke="#6a6255" stroke-width="1.2"/><path d="M352,171.5 L363,171.5" stroke="#6a6255" stroke-width="1.2"/><path d="M352,178 L363,178" stroke="#6a6255" stroke-width="1.2"/><path d="M349.0,177.0 C347.3,176.8 341.8,175.5 339.0,176.0 C336.2,176.5 333.8,178.2 332.0,180.0 C330.2,181.8 328.7,185.8 328.0,187.0 " fill="none" stroke="#6f6858" stroke-width="5.5" stroke-linecap="round" />
<path d="M349.0,177.0 C347.3,176.8 341.8,175.5 339.0,176.0 C336.2,176.5 333.8,178.2 332.0,180.0 C330.2,181.8 328.7,185.8 328.0,187.0 " fill="none" stroke="#d6cfc0" stroke-width="3.8" stroke-linecap="round" />
<path d="M366.0,177.0 C367.7,176.8 373.2,175.5 376.0,176.0 C378.8,176.5 381.2,178.2 383.0,180.0 C384.8,181.8 386.3,185.8 387.0,187.0 " fill="none" stroke="#6f6858" stroke-width="5.5" stroke-linecap="round" />
<path d="M366.0,177.0 C367.7,176.8 373.2,175.5 376.0,176.0 C378.8,176.5 381.2,178.2 383.0,180.0 C384.8,181.8 386.3,185.8 387.0,187.0 " fill="none" stroke="#d6cfc0" stroke-width="3.8" stroke-linecap="round" />
<path d="M350.0,189.0 C347.5,189.2 340.3,191.2 335.0,190.0 C329.7,188.8 323.8,183.8 318.0,182.0 C312.2,180.2 304.8,179.0 300.0,179.0 C295.2,179.0 290.8,181.5 289.0,182.0 " fill="none" stroke="#8b8373" stroke-width="7" stroke-linecap="round" />
<path d="M350.0,189.0 C347.5,189.2 340.3,191.2 335.0,190.0 C329.7,188.8 323.8,183.8 318.0,182.0 C312.2,180.2 304.8,179.0 300.0,179.0 C295.2,179.0 290.8,181.5 289.0,182.0 " fill="none" stroke="#d6cfc0" stroke-width="5" stroke-linecap="round" />
<path d="M365.0,189.0 C367.5,189.2 374.7,191.2 380.0,190.0 C385.3,188.8 391.2,183.8 397.0,182.0 C402.8,180.2 410.2,179.0 415.0,179.0 C419.8,179.0 424.2,181.5 426.0,182.0 " fill="none" stroke="#8b8373" stroke-width="7" stroke-linecap="round" />
<path d="M365.0,189.0 C367.5,189.2 374.7,191.2 380.0,190.0 C385.3,188.8 391.2,183.8 397.0,182.0 C402.8,180.2 410.2,179.0 415.0,179.0 C419.8,179.0 424.2,181.5 426.0,182.0 " fill="none" stroke="#d6cfc0" stroke-width="5" stroke-linecap="round" />
<path d="M296.0,184.0 C297.3,180.8 306.3,181.7 310.0,183.0 C313.7,184.3 317.5,188.5 318.0,192.0 C318.5,195.5 315.7,202.3 313.0,204.0 C310.3,205.7 304.8,205.3 302.0,202.0 C299.2,198.7 294.7,187.2 296.0,184.0 Z" fill="#8a8272" stroke="none" stroke-width="0" stroke-linejoin="round" />
<path d="M419.0,184.0 C417.7,180.8 408.7,181.7 405.0,183.0 C401.3,184.3 397.5,188.5 397.0,192.0 C396.5,195.5 399.3,202.3 402.0,204.0 C404.7,205.7 410.2,205.3 413.0,202.0 C415.8,198.7 420.3,187.2 419.0,184.0 Z" fill="#8a8272" stroke="none" stroke-width="0" stroke-linejoin="round" />
<path d="M280.0,204.0 L292.0,203.0 L282.5,240.0 L278.5,270.0 L277.0,296.0 L262.0,296.0 L270.5,270.0 L274.5,240.0 Z" fill="#d6cfc0" stroke="#8b8373" stroke-width="1" stroke-linejoin="round" />
<path d="M278.0,193.0 C279.2,189.8 283.2,186.0 286.0,185.0 C288.8,184.0 293.2,184.8 295.0,187.0 C296.8,189.2 297.8,194.8 297.0,198.0 C296.2,201.2 293.0,205.0 290.0,206.0 C287.0,207.0 281.0,206.2 279.0,204.0 C277.0,201.8 276.8,196.2 278.0,193.0 Z" fill="#d6cfc0" stroke="#8b8373" stroke-width="1" stroke-linejoin="round" />
<path d="M257.0,301.0 C258.2,298.3 262.7,295.7 266.0,295.0 C269.3,294.3 274.8,295.2 277.0,297.0 C279.2,298.8 279.8,303.5 279.0,306.0 C278.2,308.5 275.3,311.2 272.0,312.0 C268.7,312.8 261.5,312.8 259.0,311.0 C256.5,309.2 255.8,303.7 257.0,301.0 Z" fill="#cfc8b8" stroke="#8b8373" stroke-width="1" stroke-linejoin="round" />
<path d="M271.0,309.0 L264.0,309.0 L258.4,338.0 L253.0,376.0 L249.0,391.0 L258.4,391.0 L262.2,376.0 L267.0,338.0 Z" fill="#d6cfc0" stroke="#8b8373" stroke-width="1" stroke-linejoin="round" />
<path d="M259.0,311.0 L252.0,311.0 L249.0,338.0 L239.3,376.0 L233.5,391.0 L247.0,391.0 L249.0,376.0 L256.5,338.0 Z" fill="#d6cfc0" stroke="#8b8373" stroke-width="1" stroke-linejoin="round" />
<path d="M257.0,392.0 C252.3,389.8 236.8,388.3 232.0,390.0 C227.2,391.7 227.7,398.5 228.0,402.0 C228.3,405.5 229.7,409.3 234.0,411.0 C238.3,412.7 249.7,413.3 254.0,412.0 C258.3,410.7 259.5,406.3 260.0,403.0 C260.5,399.7 261.7,394.2 257.0,392.0 Z" fill="#c4bcab" stroke="#8b8373" stroke-width="1" stroke-linejoin="round" />
<circle cx="252.0" cy="397" r="2.4" fill="#d3ccbc" stroke="#8b8373" stroke-width="0.6"/>
<circle cx="245.0" cy="396" r="2.4" fill="#d3ccbc" stroke="#8b8373" stroke-width="0.6"/>
<circle cx="238.0" cy="397" r="2.4" fill="#d3ccbc" stroke="#8b8373" stroke-width="0.6"/>
<circle cx="250.0" cy="405" r="2.4" fill="#d3ccbc" stroke="#8b8373" stroke-width="0.6"/>
<circle cx="242.0" cy="405" r="2.4" fill="#d3ccbc" stroke="#8b8373" stroke-width="0.6"/>
<circle cx="235.0" cy="404" r="2.4" fill="#d3ccbc" stroke="#8b8373" stroke-width="0.6"/>
<path d="M255.0,411.0 L257.0,431.0" stroke="#8b8373" stroke-width="5.8" stroke-linecap="round" fill="none" /><path d="M255.0,411.0 L257.0,431.0" stroke="#d6cfc0" stroke-width="4.2" stroke-linecap="round" fill="none" />
<path d="M257.0,431.0 L257.0,456.0" stroke="#8b8373" stroke-width="4.7" stroke-linecap="round" fill="none" /><path d="M257.0,431.0 L257.0,456.0" stroke="#d6cfc0" stroke-width="3.1" stroke-linecap="round" fill="none" />
<path d="M248.0,412.0 L246.0,434.0" stroke="#8b8373" stroke-width="5.8" stroke-linecap="round" fill="none" /><path d="M248.0,412.0 L246.0,434.0" stroke="#d6cfc0" stroke-width="4.2" stroke-linecap="round" fill="none" />
<path d="M246.0,434.0 L243.0,466.0" stroke="#8b8373" stroke-width="4.7" stroke-linecap="round" fill="none" /><path d="M246.0,434.0 L243.0,466.0" stroke="#d6cfc0" stroke-width="3.1" stroke-linecap="round" fill="none" />
<path d="M241.0,411.0 L235.0,434.0" stroke="#8b8373" stroke-width="5.8" stroke-linecap="round" fill="none" /><path d="M241.0,411.0 L235.0,434.0" stroke="#d6cfc0" stroke-width="4.2" stroke-linecap="round" fill="none" />
<path d="M235.0,434.0 L230.0,468.0" stroke="#8b8373" stroke-width="4.7" stroke-linecap="round" fill="none" /><path d="M235.0,434.0 L230.0,468.0" stroke="#d6cfc0" stroke-width="3.1" stroke-linecap="round" fill="none" />
<path d="M235.0,409.0 L223.0,429.0" stroke="#8b8373" stroke-width="5.8" stroke-linecap="round" fill="none" /><path d="M235.0,409.0 L223.0,429.0" stroke="#d6cfc0" stroke-width="4.2" stroke-linecap="round" fill="none" />
<path d="M223.0,429.0 L212.0,459.0" stroke="#8b8373" stroke-width="4.7" stroke-linecap="round" fill="none" /><path d="M223.0,429.0 L212.0,459.0" stroke="#d6cfc0" stroke-width="3.1" stroke-linecap="round" fill="none" />
<path d="M233.0,400.0 L220.0,412.0" stroke="#8b8373" stroke-width="6.1" stroke-linecap="round" fill="none" /><path d="M233.0,400.0 L220.0,412.0" stroke="#d6cfc0" stroke-width="4.5" stroke-linecap="round" fill="none" />
<path d="M220.0,412.0 L211.0,423.0" stroke="#8b8373" stroke-width="5.1" stroke-linecap="round" fill="none" /><path d="M220.0,412.0 L211.0,423.0" stroke="#d6cfc0" stroke-width="3.5" stroke-linecap="round" fill="none" />
<path d="M426.0,202.0 L437.0,200.0 L438.0,240.0 L443.0,270.0 L450.0,296.0 L437.0,297.0 L436.0,270.0 L432.0,240.0 Z" fill="#d6cfc0" stroke="#8b8373" stroke-width="1" stroke-linejoin="round" />
<path d="M420.0,192.0 C421.0,188.8 425.2,185.0 428.0,184.0 C430.8,183.0 435.2,183.7 437.0,186.0 C438.8,188.3 439.8,194.7 439.0,198.0 C438.2,201.3 434.8,205.2 432.0,206.0 C429.2,206.8 424.0,205.3 422.0,203.0 C420.0,200.7 419.0,195.2 420.0,192.0 Z" fill="#d6cfc0" stroke="#8b8373" stroke-width="1" stroke-linejoin="round" />
<path d="M434.0,300.0 C435.2,297.2 440.5,294.5 444.0,294.0 C447.5,293.5 452.8,295.0 455.0,297.0 C457.2,299.0 458.0,303.5 457.0,306.0 C456.0,308.5 452.3,311.2 449.0,312.0 C445.7,312.8 439.5,313.0 437.0,311.0 C434.5,309.0 432.8,302.8 434.0,300.0 Z" fill="#cfc8b8" stroke="#8b8373" stroke-width="1" stroke-linejoin="round" />
<path d="M441.0,309.0 L448.0,309.0 L453.6,338.0 L459.0,376.0 L463.0,391.0 L453.6,391.0 L449.8,376.0 L445.0,338.0 Z" fill="#d6cfc0" stroke="#8b8373" stroke-width="1" stroke-linejoin="round" />
<path d="M453.0,311.0 L460.0,311.0 L463.0,338.0 L472.7,376.0 L478.5,391.0 L465.0,391.0 L463.0,376.0 L455.5,338.0 Z" fill="#d6cfc0" stroke="#8b8373" stroke-width="1" stroke-linejoin="round" />
<path d="M455.0,392.0 C459.7,389.8 475.2,388.3 480.0,390.0 C484.8,391.7 484.3,398.5 484.0,402.0 C483.7,405.5 482.3,409.3 478.0,411.0 C473.7,412.7 462.3,413.3 458.0,412.0 C453.7,410.7 452.5,406.3 452.0,403.0 C451.5,399.7 450.3,394.2 455.0,392.0 Z" fill="#c4bcab" stroke="#8b8373" stroke-width="1" stroke-linejoin="round" />
<circle cx="460" cy="397" r="2.4" fill="#d3ccbc" stroke="#8b8373" stroke-width="0.6"/>
<circle cx="467" cy="396" r="2.4" fill="#d3ccbc" stroke="#8b8373" stroke-width="0.6"/>
<circle cx="474" cy="397" r="2.4" fill="#d3ccbc" stroke="#8b8373" stroke-width="0.6"/>
<circle cx="462" cy="405" r="2.4" fill="#d3ccbc" stroke="#8b8373" stroke-width="0.6"/>
<circle cx="470" cy="405" r="2.4" fill="#d3ccbc" stroke="#8b8373" stroke-width="0.6"/>
<circle cx="477" cy="404" r="2.4" fill="#d3ccbc" stroke="#8b8373" stroke-width="0.6"/>
<path d="M457.0,411.0 L455.0,431.0" stroke="#8b8373" stroke-width="5.8" stroke-linecap="round" fill="none" /><path d="M457.0,411.0 L455.0,431.0" stroke="#d6cfc0" stroke-width="4.2" stroke-linecap="round" fill="none" />
<path d="M455.0,431.0 L455.0,456.0" stroke="#8b8373" stroke-width="4.7" stroke-linecap="round" fill="none" /><path d="M455.0,431.0 L455.0,456.0" stroke="#d6cfc0" stroke-width="3.1" stroke-linecap="round" fill="none" />
<path d="M464.0,412.0 L466.0,434.0" stroke="#8b8373" stroke-width="5.8" stroke-linecap="round" fill="none" /><path d="M464.0,412.0 L466.0,434.0" stroke="#d6cfc0" stroke-width="4.2" stroke-linecap="round" fill="none" />
<path d="M466.0,434.0 L469.0,466.0" stroke="#8b8373" stroke-width="4.7" stroke-linecap="round" fill="none" /><path d="M466.0,434.0 L469.0,466.0" stroke="#d6cfc0" stroke-width="3.1" stroke-linecap="round" fill="none" />
<path d="M471.0,411.0 L477.0,434.0" stroke="#8b8373" stroke-width="5.8" stroke-linecap="round" fill="none" /><path d="M471.0,411.0 L477.0,434.0" stroke="#d6cfc0" stroke-width="4.2" stroke-linecap="round" fill="none" />
<path d="M477.0,434.0 L482.0,468.0" stroke="#8b8373" stroke-width="4.7" stroke-linecap="round" fill="none" /><path d="M477.0,434.0 L482.0,468.0" stroke="#d6cfc0" stroke-width="3.1" stroke-linecap="round" fill="none" />
<path d="M477.0,409.0 L489.0,429.0" stroke="#8b8373" stroke-width="5.8" stroke-linecap="round" fill="none" /><path d="M477.0,409.0 L489.0,429.0" stroke="#d6cfc0" stroke-width="4.2" stroke-linecap="round" fill="none" />
<path d="M489.0,429.0 L500.0,459.0" stroke="#8b8373" stroke-width="4.7" stroke-linecap="round" fill="none" /><path d="M489.0,429.0 L500.0,459.0" stroke="#d6cfc0" stroke-width="3.1" stroke-linecap="round" fill="none" />
<path d="M479.0,400.0 L492.0,412.0" stroke="#8b8373" stroke-width="6.1" stroke-linecap="round" fill="none" /><path d="M479.0,400.0 L492.0,412.0" stroke="#d6cfc0" stroke-width="4.5" stroke-linecap="round" fill="none" />
<path d="M492.0,412.0 L501.0,423.0" stroke="#8b8373" stroke-width="5.1" stroke-linecap="round" fill="none" /><path d="M492.0,412.0 L501.0,423.0" stroke="#d6cfc0" stroke-width="3.5" stroke-linecap="round" fill="none" />
<path d="M350.0,256.0 L365.0,256.0 L366.0,268.0 L349.0,268.0 Z" fill="#8d8575" stroke="none" stroke-width="0" stroke-linejoin="round" />
<path d="M336.0,345.0 L346.0,343.0 L370.0,343.0 L380.0,345.0 L380.0,350.0 L370.0,352.0 L346.0,352.0 L336.0,350.0 Z" fill="#bcb4a3" stroke="#8b8373" stroke-width="1" stroke-linejoin="round" />
<path d="M346.0,341.0 C350.2,338.7 365.7,338.7 370.0,341.0 C374.3,343.3 376.2,352.7 372.0,355.0 C367.8,357.3 349.3,357.3 345.0,355.0 C340.7,352.7 341.8,343.3 346.0,341.0 Z" fill="#ccc4b3" stroke="#8b8373" stroke-width="1" stroke-linejoin="round" />
<path d="M333.0,359.0 L347.0,357.0 L368.0,357.0 L384.0,359.0 L384.0,364.0 L368.0,366.0 L347.0,366.0 L333.0,364.0 Z" fill="#b4ac9b" stroke="#8b8373" stroke-width="1" stroke-linejoin="round" />
<path d="M348.0,355.0 C351.5,352.7 364.5,352.7 368.0,355.0 C371.5,357.3 372.5,366.7 369.0,369.0 C365.5,371.3 350.5,371.3 347.0,369.0 C343.5,366.7 344.5,357.3 348.0,355.0 Z" fill="#c4bcab" stroke="#8b8373" stroke-width="1" stroke-linejoin="round" />
<path d="M376.0,358.0 C379.3,354.2 385.3,349.7 390.0,347.0 C394.7,344.3 400.3,341.8 404.0,342.0 C407.7,342.2 410.8,344.0 412.0,348.0 C413.2,352.0 412.2,360.0 411.0,366.0 C409.8,372.0 406.8,378.3 405.0,384.0 C403.2,389.7 402.5,395.5 400.0,400.0 C397.5,404.5 393.7,409.0 390.0,411.0 C386.3,413.0 381.3,413.5 378.0,412.0 C374.7,410.5 371.8,406.3 370.0,402.0 C368.2,397.7 367.0,391.3 367.0,386.0 C367.0,380.7 368.5,374.7 370.0,370.0 C371.5,365.3 372.7,361.8 376.0,358.0 Z" fill="#b7af9d" stroke="#6e6757" stroke-width="1" stroke-linejoin="round" />
<path d="M339.0,358.0 C335.7,354.2 329.7,349.7 325.0,347.0 C320.3,344.3 314.7,341.8 311.0,342.0 C307.3,342.2 304.2,344.0 303.0,348.0 C301.8,352.0 302.8,360.0 304.0,366.0 C305.2,372.0 308.2,378.3 310.0,384.0 C311.8,389.7 312.5,395.5 315.0,400.0 C317.5,404.5 321.3,409.0 325.0,411.0 C328.7,413.0 333.7,413.5 337.0,412.0 C340.3,410.5 343.2,406.3 345.0,402.0 C346.8,397.7 348.0,391.3 348.0,386.0 C348.0,380.7 346.5,374.7 345.0,370.0 C343.5,365.3 342.3,361.8 339.0,358.0 Z" fill="#b7af9d" stroke="#6e6757" stroke-width="1" stroke-linejoin="round" />
<path d="M386.0,360.0 C389.3,355.7 396.5,350.7 400.0,350.0 C403.5,349.3 406.5,351.3 407.0,356.0 C407.5,360.7 405.0,371.7 403.0,378.0 C401.0,384.3 398.0,391.7 395.0,394.0 C392.0,396.3 387.5,395.0 385.0,392.0 C382.5,389.0 379.8,381.3 380.0,376.0 C380.2,370.7 382.7,364.3 386.0,360.0 Z" fill="#cdc6b5" stroke="none" stroke-width="0" stroke-linejoin="round" />
<path d="M329.0,360.0 C325.7,355.7 318.5,350.7 315.0,350.0 C311.5,349.3 308.5,351.3 308.0,356.0 C307.5,360.7 310.0,371.7 312.0,378.0 C314.0,384.3 317.0,391.7 320.0,394.0 C323.0,396.3 327.5,395.0 330.0,392.0 C332.5,389.0 335.2,381.3 335.0,376.0 C334.8,370.7 332.3,364.3 329.0,360.0 Z" fill="#cdc6b5" stroke="none" stroke-width="0" stroke-linejoin="round" />
<path d="M366.0,384.0 C367.2,380.0 371.3,379.3 374.0,380.0 C376.7,380.7 380.5,384.7 382.0,388.0 C383.5,391.3 384.0,396.7 383.0,400.0 C382.0,403.3 378.7,407.3 376.0,408.0 C373.3,408.7 368.7,408.0 367.0,404.0 C365.3,400.0 364.8,388.0 366.0,384.0 Z" fill="#e2e2e0" stroke="none" stroke-width="0" stroke-linejoin="round" />
<path d="M349.0,384.0 C347.8,380.0 343.7,379.3 341.0,380.0 C338.3,380.7 334.5,384.7 333.0,388.0 C331.5,391.3 331.0,396.7 332.0,400.0 C333.0,403.3 336.3,407.3 339.0,408.0 C341.7,408.7 346.3,408.0 348.0,404.0 C349.7,400.0 350.2,388.0 349.0,384.0 Z" fill="#e2e2e0" stroke="none" stroke-width="0" stroke-linejoin="round" />
<path d="M348.0,368.0 C351.3,365.0 364.8,365.0 368.0,368.0 C371.2,371.0 368.0,380.3 367.0,386.0 C366.0,391.7 363.7,397.7 362.0,402.0 C360.3,406.3 358.7,412.0 357.0,412.0 C355.3,412.0 353.5,406.3 352.0,402.0 C350.5,397.7 348.7,391.7 348.0,386.0 C347.3,380.3 344.7,371.0 348.0,368.0 Z" fill="#aca492" stroke="#6e6757" stroke-width="1" stroke-linejoin="round" />
<circle cx="352" cy="378" r="1.3" fill="#3a342a"/><circle cx="363" cy="378" r="1.3" fill="#3a342a"/><circle cx="352" cy="388" r="1.3" fill="#3a342a"/><circle cx="363" cy="388" r="1.3" fill="#3a342a"/><circle cx="352" cy="397" r="1.3" fill="#3a342a"/><circle cx="363" cy="397" r="1.3" fill="#3a342a"/><path d="M318.0,408.0 C319.7,406.7 325.5,411.0 330.0,412.0 C334.5,413.0 340.5,413.0 345.0,414.0 C349.5,415.0 352.8,418.0 357.0,418.0 C361.2,418.0 365.5,415.0 370.0,414.0 C374.5,413.0 379.7,413.3 384.0,412.0 C388.3,410.7 394.5,404.7 396.0,406.0 C397.5,407.3 394.7,416.3 393.0,420.0 C391.3,423.7 389.5,426.2 386.0,428.0 C382.5,429.8 376.8,431.0 372.0,431.0 C367.2,431.0 362.0,428.0 357.0,428.0 C352.0,428.0 346.8,431.0 342.0,431.0 C337.2,431.0 331.7,429.8 328.0,428.0 C324.3,426.2 321.7,423.3 320.0,420.0 C318.3,416.7 316.3,409.3 318.0,408.0 Z" fill="#b7af9d" stroke="#6e6757" stroke-width="1" stroke-linejoin="round" />
<ellipse cx="335.7" cy="420.6" rx="6.5" ry="5.8" fill="#ececec" stroke="#6e6757" stroke-width="1"/><ellipse cx="378.5" cy="420.6" rx="7" ry="5.8" fill="#ececec" stroke="#6e6757" stroke-width="1"/><path d="M297.0,411.0 C298.5,408.0 302.5,406.8 305.0,407.0 C307.5,407.2 309.8,410.8 312.0,412.0 C314.2,413.2 316.0,413.8 318.0,414.0 C320.0,414.2 323.3,411.3 324.0,413.0 C324.7,414.7 323.5,420.8 322.0,424.0 C320.5,427.2 315.0,419.3 315.0,432.0 C315.0,444.7 319.0,482.0 322.0,500.0 C325.0,518.0 329.3,531.3 333.0,540.0 C336.7,548.7 342.2,547.8 344.0,552.0 C345.8,556.2 346.3,562.3 344.0,565.0 C341.7,567.7 335.3,567.7 330.0,568.0 C324.7,568.3 315.5,569.7 312.0,567.0 C308.5,564.3 308.5,556.5 309.0,552.0 C309.5,547.5 314.8,548.7 315.0,540.0 C315.2,531.3 312.2,515.8 310.0,500.0 C307.8,484.2 304.3,457.5 302.0,445.0 C299.7,432.5 296.8,430.7 296.0,425.0 C295.2,419.3 295.5,414.0 297.0,411.0 Z" fill="#a1998a" stroke="#6e6757" stroke-width="1.2" stroke-linejoin="round" />
<path d="M390.0,404.0 C390.8,401.8 393.7,398.5 396.0,398.0 C398.3,397.5 401.7,400.0 404.0,401.0 C406.3,402.0 408.3,404.2 410.0,404.0 C411.7,403.8 412.3,400.2 414.0,400.0 C415.7,399.8 418.8,400.7 420.0,403.0 C421.2,405.3 422.0,410.2 421.0,414.0 C420.0,417.8 417.2,416.7 414.0,426.0 C410.8,435.3 404.5,457.7 402.0,470.0 C399.5,482.3 400.0,489.7 399.0,500.0 C398.0,510.3 398.8,526.3 396.0,532.0 C393.2,537.7 383.7,539.3 382.0,534.0 C380.3,528.7 384.3,510.7 386.0,500.0 C387.7,489.3 389.8,480.8 392.0,470.0 C394.2,459.2 398.2,443.3 399.0,435.0 C399.8,426.7 398.3,424.0 397.0,420.0 C395.7,416.0 392.2,413.7 391.0,411.0 C389.8,408.3 389.2,406.2 390.0,404.0 Z" fill="#a1998a" stroke="#6e6757" stroke-width="1.2" stroke-linejoin="round" />
<path d="M309.0,430.0 C310.2,441.7 313.2,481.7 316.0,500.0 C318.8,518.3 324.3,533.3 326.0,540.0 " fill="none" stroke="#b9b1a0" stroke-width="3" stroke-linecap="round" opacity="0.7"/>
<path d="M404.0,430.0 C402.3,441.7 396.3,483.3 394.0,500.0 C391.7,516.7 390.7,525.0 390.0,530.0 " fill="none" stroke="#b9b1a0" stroke-width="3" stroke-linecap="round" opacity="0.7"/>
<ellipse cx="320.5" cy="560" rx="8" ry="9" fill="#b3ab98" stroke="#857d6c" stroke-width="0.8"/><path d="M312,568.5 L342,568.5" stroke="#f4f4f4" stroke-width="1.6"/><path d="M310.0,578.0 L319.0,738.0" stroke="#6e6757" stroke-width="7.0" stroke-linecap="round" fill="none" /><path d="M310.0,578.0 L319.0,738.0" stroke="#9a9281" stroke-width="5.0" stroke-linecap="round" fill="none" />
<path d="M311.0,570.0 C316.0,568.0 338.0,568.0 343.0,570.0 C348.0,572.0 342.3,577.0 341.0,582.0 C339.7,587.0 336.2,587.0 335.0,600.0 C333.8,613.0 334.0,638.3 334.0,660.0 C334.0,681.7 334.3,716.3 335.0,730.0 C335.7,743.7 340.2,740.0 338.0,742.0 C335.8,744.0 324.5,744.0 322.0,742.0 C319.5,740.0 322.7,743.7 323.0,730.0 C323.3,716.3 324.2,681.7 324.0,660.0 C323.8,638.3 323.8,613.0 322.0,600.0 C320.2,587.0 314.8,587.0 313.0,582.0 C311.2,577.0 306.0,572.0 311.0,570.0 Z" fill="#a1998a" stroke="#6e6757" stroke-width="1.2" stroke-linejoin="round" />
<path d="M326.0,590.0 C326.3,601.7 327.7,636.7 328.0,660.0 C328.3,683.3 328.0,718.3 328.0,730.0 " fill="none" stroke="#b9b1a0" stroke-width="2.5" stroke-linecap="round" opacity="0.7"/>
<path d="M395.0,600.0 L391.0,740.0" stroke="#6e6757" stroke-width="7.0" stroke-linecap="round" fill="none" /><path d="M395.0,600.0 L391.0,740.0" stroke="#9a9281" stroke-width="5.0" stroke-linecap="round" fill="none" />
<path d="M374.0,600.0 C376.2,590.0 387.7,590.0 390.0,600.0 C392.3,610.0 389.0,638.3 388.0,660.0 C387.0,681.7 384.3,716.3 384.0,730.0 C383.7,743.7 388.7,740.0 386.0,742.0 C383.3,744.0 370.7,744.0 368.0,742.0 C365.3,740.0 368.5,743.7 370.0,730.0 C371.5,716.3 376.3,681.7 377.0,660.0 C377.7,638.3 371.8,610.0 374.0,600.0 Z" fill="#a1998a" stroke="#6e6757" stroke-width="1.2" stroke-linejoin="round" />
<path d="M382.0,605.0 C382.0,614.2 382.8,639.2 382.0,660.0 C381.2,680.8 377.8,718.3 377.0,730.0 " fill="none" stroke="#b9b1a0" stroke-width="2.5" stroke-linecap="round" opacity="0.7"/>
<path d="M347.0,738.0 C342.5,735.3 327.8,734.3 322.0,736.0 C316.2,737.7 315.7,744.0 312.0,748.0 C308.3,752.0 302.3,756.5 300.0,760.0 C297.7,763.5 296.3,766.5 298.0,769.0 C299.7,771.5 305.0,773.7 310.0,775.0 C315.0,776.3 322.7,776.8 328.0,777.0 C333.3,777.2 338.7,777.8 342.0,776.0 C345.3,774.2 346.8,770.0 348.0,766.0 C349.2,762.0 349.2,756.7 349.0,752.0 C348.8,747.3 351.5,740.7 347.0,738.0 Z" fill="#e4e4e4" stroke="#a4a4a4" stroke-width="1" stroke-linejoin="round" />
<path d="M346.0,734.0 C342.5,732.0 330.7,732.0 326.0,734.0 C321.3,736.0 320.0,742.7 318.0,746.0 C316.0,749.3 312.3,752.0 314.0,754.0 C315.7,756.0 323.3,757.7 328.0,758.0 C332.7,758.3 338.8,758.0 342.0,756.0 C345.2,754.0 346.3,749.7 347.0,746.0 C347.7,742.3 349.5,736.0 346.0,734.0 Z" fill="#a39b89" stroke="#6e6757" stroke-width="0.9" stroke-linejoin="round" />
<path d="M339.0,752.0 L334.0,764.0" stroke="#6e6757" stroke-width="7.4" stroke-linecap="round" fill="none" /><path d="M339.0,752.0 L334.0,764.0" stroke="#a9a18f" stroke-width="5.8" stroke-linecap="round" fill="none" />
<path d="M334.0,764.0 L331.0,772.0" stroke="#6e6757" stroke-width="6.6" stroke-linecap="round" fill="none" /><path d="M334.0,764.0 L331.0,772.0" stroke="#b8b09e" stroke-width="5.0" stroke-linecap="round" fill="none" />
<path d="M331.0,752.0 L323.0,764.0" stroke="#6e6757" stroke-width="6.1" stroke-linecap="round" fill="none" /><path d="M331.0,752.0 L323.0,764.0" stroke="#a9a18f" stroke-width="4.5" stroke-linecap="round" fill="none" />
<path d="M323.0,764.0 L321.0,772.0" stroke="#6e6757" stroke-width="5.5" stroke-linecap="round" fill="none" /><path d="M323.0,764.0 L321.0,772.0" stroke="#b8b09e" stroke-width="3.9" stroke-linecap="round" fill="none" />
<path d="M325.0,751.0 L316.0,762.0" stroke="#6e6757" stroke-width="5.7" stroke-linecap="round" fill="none" /><path d="M325.0,751.0 L316.0,762.0" stroke="#a9a18f" stroke-width="4.1" stroke-linecap="round" fill="none" />
<path d="M316.0,762.0 L314.0,770.0" stroke="#6e6757" stroke-width="5.2" stroke-linecap="round" fill="none" /><path d="M316.0,762.0 L314.0,770.0" stroke="#b8b09e" stroke-width="3.6" stroke-linecap="round" fill="none" />
<path d="M320.0,750.0 L310.0,760.0" stroke="#6e6757" stroke-width="5.4" stroke-linecap="round" fill="none" /><path d="M320.0,750.0 L310.0,760.0" stroke="#a9a18f" stroke-width="3.8" stroke-linecap="round" fill="none" />
<path d="M310.0,760.0 L307.0,767.0" stroke="#6e6757" stroke-width="4.9" stroke-linecap="round" fill="none" /><path d="M310.0,760.0 L307.0,767.0" stroke="#b8b09e" stroke-width="3.3" stroke-linecap="round" fill="none" />
<path d="M316.0,748.0 L305.0,757.0" stroke="#6e6757" stroke-width="5.0" stroke-linecap="round" fill="none" /><path d="M316.0,748.0 L305.0,757.0" stroke="#a9a18f" stroke-width="3.4" stroke-linecap="round" fill="none" />
<path d="M305.0,757.0 L302.0,764.0" stroke="#6e6757" stroke-width="4.5" stroke-linecap="round" fill="none" /><path d="M305.0,757.0 L302.0,764.0" stroke="#b8b09e" stroke-width="2.9" stroke-linecap="round" fill="none" />
<path d="M367.0,738.0 C371.5,735.3 386.2,734.3 392.0,736.0 C397.8,737.7 398.3,744.0 402.0,748.0 C405.7,752.0 411.7,756.5 414.0,760.0 C416.3,763.5 417.7,766.5 416.0,769.0 C414.3,771.5 409.0,773.7 404.0,775.0 C399.0,776.3 391.3,776.8 386.0,777.0 C380.7,777.2 375.3,777.8 372.0,776.0 C368.7,774.2 367.2,770.0 366.0,766.0 C364.8,762.0 364.8,756.7 365.0,752.0 C365.2,747.3 362.5,740.7 367.0,738.0 Z" fill="#e4e4e4" stroke="#a4a4a4" stroke-width="1" stroke-linejoin="round" />
<path d="M368.0,734.0 C371.5,732.0 383.3,732.0 388.0,734.0 C392.7,736.0 394.0,742.7 396.0,746.0 C398.0,749.3 401.7,752.0 400.0,754.0 C398.3,756.0 390.7,757.7 386.0,758.0 C381.3,758.3 375.2,758.0 372.0,756.0 C368.8,754.0 367.7,749.7 367.0,746.0 C366.3,742.3 364.5,736.0 368.0,734.0 Z" fill="#a39b89" stroke="#6e6757" stroke-width="0.9" stroke-linejoin="round" />
<path d="M375.0,752.0 L380.0,764.0" stroke="#6e6757" stroke-width="7.4" stroke-linecap="round" fill="none" /><path d="M375.0,752.0 L380.0,764.0" stroke="#a9a18f" stroke-width="5.8" stroke-linecap="round" fill="none" />
<path d="M380.0,764.0 L383.0,772.0" stroke="#6e6757" stroke-width="6.6" stroke-linecap="round" fill="none" /><path d="M380.0,764.0 L383.0,772.0" stroke="#b8b09e" stroke-width="5.0" stroke-linecap="round" fill="none" />
<path d="M383.0,752.0 L391.0,764.0" stroke="#6e6757" stroke-width="6.1" stroke-linecap="round" fill="none" /><path d="M383.0,752.0 L391.0,764.0" stroke="#a9a18f" stroke-width="4.5" stroke-linecap="round" fill="none" />
<path d="M391.0,764.0 L393.0,772.0" stroke="#6e6757" stroke-width="5.5" stroke-linecap="round" fill="none" /><path d="M391.0,764.0 L393.0,772.0" stroke="#b8b09e" stroke-width="3.9" stroke-linecap="round" fill="none" />
<path d="M389.0,751.0 L398.0,762.0" stroke="#6e6757" stroke-width="5.7" stroke-linecap="round" fill="none" /><path d="M389.0,751.0 L398.0,762.0" stroke="#a9a18f" stroke-width="4.1" stroke-linecap="round" fill="none" />
<path d="M398.0,762.0 L400.0,770.0" stroke="#6e6757" stroke-width="5.2" stroke-linecap="round" fill="none" /><path d="M398.0,762.0 L400.0,770.0" stroke="#b8b09e" stroke-width="3.6" stroke-linecap="round" fill="none" />
<path d="M394.0,750.0 L404.0,760.0" stroke="#6e6757" stroke-width="5.4" stroke-linecap="round" fill="none" /><path d="M394.0,750.0 L404.0,760.0" stroke="#a9a18f" stroke-width="3.8" stroke-linecap="round" fill="none" />
<path d="M404.0,760.0 L407.0,767.0" stroke="#6e6757" stroke-width="4.9" stroke-linecap="round" fill="none" /><path d="M404.0,760.0 L407.0,767.0" stroke="#b8b09e" stroke-width="3.3" stroke-linecap="round" fill="none" />
<path d="M398.0,748.0 L409.0,757.0" stroke="#6e6757" stroke-width="5.0" stroke-linecap="round" fill="none" /><path d="M398.0,748.0 L409.0,757.0" stroke="#a9a18f" stroke-width="3.4" stroke-linecap="round" fill="none" />
<path d="M409.0,757.0 L412.0,764.0" stroke="#6e6757" stroke-width="4.5" stroke-linecap="round" fill="none" /><path d="M409.0,757.0 L412.0,764.0" stroke="#b8b09e" stroke-width="2.9" stroke-linecap="round" fill="none" />
</g>

<defs><filter id="cb1" x="-10%" y="-10%" width="120%" height="120%"><feGaussianBlur stdDeviation="0.6"/></filter><filter id="cb2" x="-10%" y="-10%" width="120%" height="120%"><feGaussianBlur stdDeviation="1.5"/></filter><filter id="noise" x="0" y="0" width="100%" height="100%"><feTurbulence type="fractalNoise" baseFrequency="0.9" numOctaves="2" seed="3"/><feColorMatrix type="matrix" values="0 0 0 0 0.55  0 0 0 0 0.25  0 0 0 0 0.15  0 0 0 1.6 -0.6"/><feComposite in2="SourceGraphic" operator="in"/></filter><clipPath id="cH"><circle cx="395.5" cy="225" r="38.8"/></clipPath><linearGradient id="bH" gradientUnits="userSpaceOnUse" x1="368.34000000000003" y1="252.16" x2="422.65999999999997" y2="197.84"><stop offset="0" stop-color="#7a2898"/><stop offset="0.6" stop-color="#c01a8c"/><stop offset="1" stop-color="#d8158a"/></linearGradient><filter id="pinkn" x="0" y="0" width="100%" height="100%"><feTurbulence type="fractalNoise" baseFrequency="0.08 0.5" numOctaves="2" seed="5"/><feColorMatrix type="matrix" values="0 0 0 0 0.85  0 0 0 0 0.45  0 0 0 0 0.72  0 0 0 0.9 -0.3"/><feComposite in2="SourceGraphic" operator="in"/></filter><clipPath id="cS"><circle cx="359" cy="303" r="38.8"/></clipPath><linearGradient id="bS" gradientUnits="userSpaceOnUse" x1="331.84000000000003" y1="330.15999999999997" x2="386.15999999999997" y2="275.84000000000003"><stop offset="0" stop-color="#7a2898"/><stop offset="0.6" stop-color="#c01a8c"/><stop offset="1" stop-color="#d8158a"/></linearGradient><filter id="spn" x="0" y="0" width="100%" height="100%"><feTurbulence type="fractalNoise" baseFrequency="0.45" numOctaves="2" seed="9"/><feColorMatrix type="matrix" values="0 0 0 0 0.58  0 0 0 0 0.22  0 0 0 0 0.12  0 0 0 3.0 -1.3"/><feComposite in2="SourceGraphic" operator="in"/></filter><clipPath id="cK"><circle cx="314" cy="376.4" r="38.8"/></clipPath><linearGradient id="bK" gradientUnits="userSpaceOnUse" x1="286.84000000000003" y1="403.55999999999995" x2="341.15999999999997" y2="349.24"><stop offset="0" stop-color="#7a2898"/><stop offset="0.6" stop-color="#c01a8c"/><stop offset="1" stop-color="#d8158a"/></linearGradient><clipPath id="cN"><circle cx="386.8" cy="566" r="38.8"/></clipPath><linearGradient id="bN" gradientUnits="userSpaceOnUse" x1="359.64" y1="593.16" x2="413.96000000000004" y2="538.84"><stop offset="0" stop-color="#7a2898"/><stop offset="0.6" stop-color="#c01a8c"/><stop offset="1" stop-color="#d8158a"/></linearGradient><clipPath id="cF"><circle cx="324.7" cy="711.6" r="38.8"/></clipPath><linearGradient id="bF" gradientUnits="userSpaceOnUse" x1="297.53999999999996" y1="738.76" x2="351.86" y2="684.44"><stop offset="0" stop-color="#7a2898"/><stop offset="0.6" stop-color="#c01a8c"/><stop offset="1" stop-color="#d8158a"/></linearGradient></defs>
<g id="circles">
<g clip-path="url(#cH)">
<rect x="356.7" y="186.2" width="77.6" height="77.6" fill="#ca60a9"/>
<rect x="356.7" y="186.2" width="77.6" height="77.6" fill="#fff" filter="url(#pinkn)" opacity="0.6" transform="rotate(-10 395.5 225)"/>
<ellipse cx="391.8" cy="229.6" rx="2.9" ry="0.9" fill="#6a4aa8" opacity="0.55" transform="rotate(-14 391.8 229.6)"/>
<ellipse cx="392.8" cy="225.6" rx="2.5" ry="0.9" fill="#6a4aa8" opacity="0.55" transform="rotate(-14 392.8 225.6)"/>
<ellipse cx="371.0" cy="225.9" rx="2.6" ry="0.9" fill="#6a4aa8" opacity="0.55" transform="rotate(-14 371.0 225.9)"/>
<ellipse cx="418.2" cy="193.5" rx="2.2" ry="0.9" fill="#6a4aa8" opacity="0.55" transform="rotate(-14 418.2 193.5)"/>
<ellipse cx="363.7" cy="249.0" rx="2.6" ry="0.9" fill="#6a4aa8" opacity="0.55" transform="rotate(-14 363.7 249.0)"/>
<ellipse cx="359.9" cy="262.4" rx="3.0" ry="0.9" fill="#6a4aa8" opacity="0.55" transform="rotate(-14 359.9 262.4)"/>
<ellipse cx="407.4" cy="234.0" rx="2.0" ry="0.9" fill="#6a4aa8" opacity="0.55" transform="rotate(-14 407.4 234.0)"/>
<ellipse cx="357.9" cy="227.2" rx="1.9" ry="0.9" fill="#6a4aa8" opacity="0.55" transform="rotate(-14 357.9 227.2)"/>
<ellipse cx="371.5" cy="205.0" rx="1.8" ry="0.9" fill="#6a4aa8" opacity="0.55" transform="rotate(-14 371.5 205.0)"/>
<ellipse cx="392.7" cy="220.4" rx="2.8" ry="0.9" fill="#6a4aa8" opacity="0.55" transform="rotate(-14 392.7 220.4)"/>
<ellipse cx="397.0" cy="235.9" rx="2.4" ry="0.9" fill="#6a4aa8" opacity="0.55" transform="rotate(-14 397.0 235.9)"/>
<ellipse cx="408.1" cy="221.7" rx="2.1" ry="0.9" fill="#6a4aa8" opacity="0.55" transform="rotate(-14 408.1 221.7)"/>
<ellipse cx="434.1" cy="263.5" rx="2.8" ry="0.9" fill="#6a4aa8" opacity="0.55" transform="rotate(-14 434.1 263.5)"/>
<ellipse cx="411.6" cy="210.7" rx="2.1" ry="0.9" fill="#6a4aa8" opacity="0.55" transform="rotate(-14 411.6 210.7)"/>
<ellipse cx="379.1" cy="191.6" rx="2.7" ry="0.9" fill="#6a4aa8" opacity="0.55" transform="rotate(-14 379.1 191.6)"/>
<ellipse cx="387.8" cy="251.9" rx="2.3" ry="0.9" fill="#6a4aa8" opacity="0.55" transform="rotate(-14 387.8 251.9)"/>
<ellipse cx="431.0" cy="252.0" rx="1.8" ry="0.9" fill="#6a4aa8" opacity="0.55" transform="rotate(-14 431.0 252.0)"/>
<ellipse cx="373.0" cy="256.8" rx="2.4" ry="0.9" fill="#6a4aa8" opacity="0.55" transform="rotate(-14 373.0 256.8)"/>
<ellipse cx="432.8" cy="217.0" rx="1.9" ry="0.9" fill="#6a4aa8" opacity="0.55" transform="rotate(-14 432.8 217.0)"/>
<ellipse cx="405.5" cy="246.6" rx="2.1" ry="0.9" fill="#6a4aa8" opacity="0.55" transform="rotate(-14 405.5 246.6)"/>
<ellipse cx="363.5" cy="212.0" rx="3.0" ry="0.9" fill="#6a4aa8" opacity="0.55" transform="rotate(-14 363.5 212.0)"/>
<ellipse cx="415.5" cy="195.4" rx="2.1" ry="0.9" fill="#6a4aa8" opacity="0.55" transform="rotate(-14 415.5 195.4)"/>
<ellipse cx="364.5" cy="190.8" rx="2.8" ry="0.9" fill="#6a4aa8" opacity="0.55" transform="rotate(-14 364.5 190.8)"/>
<ellipse cx="370.5" cy="229.6" rx="2.3" ry="0.9" fill="#6a4aa8" opacity="0.55" transform="rotate(-14 370.5 229.6)"/>
<ellipse cx="371.5" cy="243.0" rx="2.0" ry="0.9" fill="#6a4aa8" opacity="0.55" transform="rotate(-14 371.5 243.0)"/>
<ellipse cx="406.7" cy="195.2" rx="2.3" ry="0.9" fill="#6a4aa8" opacity="0.55" transform="rotate(-14 406.7 195.2)"/>
<g filter="url(#cb1)"><path d="M382,204 L388,207 L390,214 L389,221 L384,220 L381,212 Z" fill="#fbf2ee"/><path d="M392,211 L398,206 L401,209 L399,214 L393,215 Z" fill="#f8e8ea"/><path d="M404,206 L408,207 L406,209 Z" fill="#f5dde8"/><circle cx="386" cy="210" r="1.3" fill="#e8b070"/></g>
</g>
<circle cx="395.5" cy="225" r="38.8" fill="none" stroke="url(#bH)" stroke-width="2.4"/>

<g clip-path="url(#cS)">
<rect x="320.2" y="264.2" width="77.6" height="77.6" fill="#060606"/>
<path d="M325,286 Q333,282 342,284 L343,292 Q333,293 326,291 Z" fill="#3fc43c"/>
<path d="M330,266 Q338,262 344,266 L344,276 L332,276 Z" fill="#3fc43c" opacity="0.9"/>
<path d="M372,266 L384,262 L388,272 L374,276 Z" fill="#3fc43c" opacity="0.9"/>
<path d="M326,294 L342,296 L342,304 L330,302 Z" fill="#3fc43c" opacity="0.6"/>
<path d="M374,294 L388,294 L386,302 L374,302 Z" fill="#3fc43c" opacity="0.6"/>
<path d="M325,286 L331,284 L332,291 L326,291 Z" fill="#d8e0d0"/>
<path d="M373,284 Q380,281 386,283 L384,290 L373,291 Z" fill="#3fc43c"/>
<path d="M323,306 Q332,303 342,305 L342,313 Q332,315 324,312 Z" fill="#3fc43c"/>
<path d="M323,306 L330,305 L330,313 L324,312 Z" fill="#dcdcd4"/>
<path d="M374,305 L386,304 L388,310 L375,313 Z" fill="#3fc43c"/>
<path d="M316,318 Q330,314 342,320 L344,346 L318,346 Z" fill="#3fc43c"/>
<path d="M372,318 L388,312 L398,320 L398,346 L372,346 Z" fill="#3fc43c"/>
<path d="M382,308 L394,304 L398,316 L390,324 L382,320 Z" fill="#dad2cc"/>
<path d="M330,326 L342,328 L342,336 L334,334 Z" fill="#d8d0cc" opacity="0.7"/>
<rect x="340" y="262" width="35" height="86" fill="#d9cfcb"/>
<rect x="340" y="262" width="35" height="86" fill="#fff" filter="url(#spn)"/>
<rect x="338" y="275.9" width="39" height="3.2" rx="1.5" fill="#8a4a32" opacity="0.75"/>
<rect x="339" y="279.1" width="37" height="1.3" fill="#efe6e0" opacity="0.8"/>
<rect x="338" y="297.9" width="39" height="3.2" rx="1.5" fill="#8a4a32" opacity="0.75"/>
<rect x="339" y="301.1" width="37" height="1.3" fill="#efe6e0" opacity="0.8"/>
<rect x="338" y="322.4" width="39" height="3.2" rx="1.5" fill="#8a4a32" opacity="0.75"/>
<rect x="339" y="325.6" width="37" height="1.3" fill="#efe6e0" opacity="0.8"/>
<rect x="349.4" y="308.5" width="0.9" height="5.2" fill="#9a5ac8" opacity="0.6"/>
<rect x="360.7" y="315.1" width="0.9" height="3.4" fill="#9a5ac8" opacity="0.6"/>
<rect x="342.4" y="332.0" width="0.9" height="4.6" fill="#9a5ac8" opacity="0.6"/>
<rect x="349.3" y="344.7" width="0.9" height="5.8" fill="#9a5ac8" opacity="0.6"/>
<rect x="367.9" y="303.1" width="0.9" height="6.8" fill="#9a5ac8" opacity="0.6"/>
<rect x="346.7" y="315.8" width="0.9" height="8.2" fill="#9a5ac8" opacity="0.6"/>
<rect x="358.2" y="324.3" width="0.9" height="7.0" fill="#9a5ac8" opacity="0.6"/>
<rect x="344.0" y="325.7" width="0.9" height="6.5" fill="#9a5ac8" opacity="0.6"/>
<rect x="351.3" y="267.5" width="0.9" height="8.2" fill="#9a5ac8" opacity="0.6"/>
<rect x="356.7" y="322.5" width="0.9" height="8.3" fill="#9a5ac8" opacity="0.6"/>
<rect x="364.1" y="338.7" width="0.9" height="5.4" fill="#9a5ac8" opacity="0.6"/>
<rect x="366.8" y="300.6" width="0.9" height="8.6" fill="#9a5ac8" opacity="0.6"/>
<rect x="369.2" y="272.8" width="0.9" height="3.8" fill="#9a5ac8" opacity="0.6"/>
<rect x="348.7" y="342.2" width="0.9" height="5.6" fill="#9a5ac8" opacity="0.6"/>
<rect x="361.4" y="289.1" width="0.9" height="6.0" fill="#9a5ac8" opacity="0.6"/>
<rect x="354.0" y="293.1" width="0.9" height="6.5" fill="#9a5ac8" opacity="0.6"/>
<rect x="360.1" y="337.3" width="0.9" height="7.1" fill="#9a5ac8" opacity="0.6"/>
<rect x="370.8" y="333.5" width="0.9" height="8.9" fill="#9a5ac8" opacity="0.6"/>
<rect x="362.8" y="278.0" width="0.9" height="8.2" fill="#9a5ac8" opacity="0.6"/>
<rect x="371.9" y="337.4" width="0.9" height="6.4" fill="#9a5ac8" opacity="0.6"/>
<rect x="364.1" y="281.9" width="0.9" height="8.0" fill="#9a5ac8" opacity="0.6"/>
<rect x="359.8" y="287.8" width="0.9" height="3.4" fill="#9a5ac8" opacity="0.6"/>
<rect x="368.5" y="344.2" width="0.9" height="3.5" fill="#9a5ac8" opacity="0.6"/>
<rect x="366.8" y="297.8" width="0.9" height="3.9" fill="#9a5ac8" opacity="0.6"/>
<rect x="351.1" y="326.5" width="0.9" height="8.2" fill="#9a5ac8" opacity="0.6"/>
<rect x="343.4" y="314.2" width="0.9" height="3.3" fill="#9a5ac8" opacity="0.6"/>
<rect x="364.3" y="291.5" width="0.9" height="8.3" fill="#9a5ac8" opacity="0.6"/>
<rect x="372.4" y="305.4" width="0.9" height="9.0" fill="#9a5ac8" opacity="0.6"/>
<rect x="351.6" y="271.2" width="0.9" height="6.6" fill="#9a5ac8" opacity="0.6"/>
<rect x="343.0" y="280.8" width="0.9" height="5.4" fill="#9a5ac8" opacity="0.6"/>
<circle cx="360.9" cy="277.5" r="0.9" fill="#3fc43c" opacity="0.8"/>
<circle cx="343.3" cy="334.4" r="0.9" fill="#3fc43c" opacity="0.8"/>
<circle cx="351.7" cy="341.7" r="0.9" fill="#3fc43c" opacity="0.8"/>
<circle cx="369.8" cy="295.2" r="0.9" fill="#3fc43c" opacity="0.8"/>
<circle cx="356.3" cy="306.6" r="0.9" fill="#3fc43c" opacity="0.8"/>
<circle cx="362.0" cy="312.7" r="0.9" fill="#3fc43c" opacity="0.8"/>
<circle cx="359.3" cy="314.6" r="0.9" fill="#3fc43c" opacity="0.8"/>
<circle cx="371.2" cy="305.6" r="0.9" fill="#3fc43c" opacity="0.8"/>
<circle cx="355.4" cy="322.6" r="0.9" fill="#3fc43c" opacity="0.8"/>
<circle cx="349.4" cy="289.1" r="0.9" fill="#3fc43c" opacity="0.8"/>
</g>
<circle cx="359" cy="303" r="38.8" fill="none" stroke="url(#bS)" stroke-width="2.4"/>

<g clip-path="url(#cK)">
<rect x="275.2" y="337.59999999999997" width="77.6" height="77.6" fill="#dccbde"/>
<ellipse cx="305" cy="368" rx="24" ry="16" fill="#f2ecf4" filter="url(#cb2)"/>
<path d="M292,372 l23.6,-11.0" stroke="#ffffff" stroke-width="3.5" stroke-linecap="round" filter="url(#cb1)" opacity="0.9"/>
<path d="M292,372 l29.3,-6.2" stroke="#f6f0f8" stroke-width="3" stroke-linecap="round" filter="url(#cb1)" opacity="0.9"/>
<path d="M292,372 l28.0,0.0" stroke="#ffffff" stroke-width="3.2" stroke-linecap="round" filter="url(#cb1)" opacity="0.9"/>
<path d="M292,372 l25.4,5.4" stroke="#c4b2d4" stroke-width="1.8" stroke-linecap="round" filter="url(#cb1)" opacity="0.9"/>
<path d="M292,372 l18.0,-12.6" stroke="#c0aed0" stroke-width="1.6" stroke-linecap="round" filter="url(#cb1)" opacity="0.9"/>
<path d="M292,372 l22.6,8.2" stroke="#ffffff" stroke-width="2.6" stroke-linecap="round" filter="url(#cb1)" opacity="0.9"/>
<path d="M292,372 l29.9,-2.6" stroke="#bca8cc" stroke-width="1.4" stroke-linecap="round" filter="url(#cb1)" opacity="0.9"/>
<path d="M305,385 Q325,390 348,400" stroke="#d2a4c8" stroke-width="4" fill="none" opacity="0.6" filter="url(#cb1)"/>
<ellipse cx="351.1" cy="378.0" rx="2.1" ry="1.4" fill="#2c2a6c" opacity="0.61" transform="rotate(2 351.1 378.0)"/>
<ellipse cx="323.0" cy="386.7" rx="2.2" ry="1.5" fill="#2c2a6c" opacity="0.72" transform="rotate(113 323.0 386.7)"/>
<ellipse cx="330.1" cy="394.9" rx="2.4" ry="1.7" fill="#2c2a6c" opacity="0.69" transform="rotate(11 330.1 394.9)"/>
<ellipse cx="319.4" cy="394.6" rx="2.6" ry="1.2" fill="#2c2a6c" opacity="0.67" transform="rotate(40 319.4 394.6)"/>
<ellipse cx="309.0" cy="391.8" rx="2.0" ry="1.6" fill="#2c2a6c" opacity="0.75" transform="rotate(58 309.0 391.8)"/>
<ellipse cx="341.6" cy="350.7" rx="2.7" ry="1.4" fill="#2c2a6c" opacity="0.68" transform="rotate(117 341.6 350.7)"/>
<ellipse cx="284.6" cy="378.7" rx="2.6" ry="1.2" fill="#2c2a6c" opacity="0.70" transform="rotate(145 284.6 378.7)"/>
<ellipse cx="337.8" cy="387.4" rx="1.8" ry="1.3" fill="#2c2a6c" opacity="0.88" transform="rotate(62 337.8 387.4)"/>
<ellipse cx="292.4" cy="395.5" rx="2.2" ry="1.3" fill="#2c2a6c" opacity="0.72" transform="rotate(119 292.4 395.5)"/>
<ellipse cx="345.0" cy="382.4" rx="1.8" ry="1.3" fill="#2c2a6c" opacity="0.83" transform="rotate(134 345.0 382.4)"/>
<ellipse cx="342.1" cy="374.6" rx="1.8" ry="1.4" fill="#2c2a6c" opacity="0.89" transform="rotate(63 342.1 374.6)"/>
<ellipse cx="337.7" cy="401.5" rx="2.6" ry="1.1" fill="#2c2a6c" opacity="0.69" transform="rotate(113 337.7 401.5)"/>
<ellipse cx="311.9" cy="397.9" rx="1.8" ry="1.2" fill="#2c2a6c" opacity="0.62" transform="rotate(10 311.9 397.9)"/>
<ellipse cx="281.9" cy="376.6" rx="2.0" ry="1.5" fill="#2c2a6c" opacity="0.81" transform="rotate(57 281.9 376.6)"/>
<ellipse cx="284.8" cy="380.7" rx="1.7" ry="1.2" fill="#2c2a6c" opacity="0.73" transform="rotate(68 284.8 380.7)"/>
<ellipse cx="322.1" cy="398.3" rx="2.3" ry="1.4" fill="#2c2a6c" opacity="0.73" transform="rotate(144 322.1 398.3)"/>
<ellipse cx="313.7" cy="392.1" rx="2.2" ry="1.2" fill="#2c2a6c" opacity="0.79" transform="rotate(125 313.7 392.1)"/>
<ellipse cx="329.1" cy="343.2" rx="2.7" ry="1.7" fill="#2c2a6c" opacity="0.73" transform="rotate(77 329.1 343.2)"/>
<ellipse cx="336.7" cy="389.4" rx="1.7" ry="1.5" fill="#2c2a6c" opacity="0.60" transform="rotate(101 336.7 389.4)"/>
<ellipse cx="286.3" cy="397.7" rx="1.7" ry="1.6" fill="#2c2a6c" opacity="0.66" transform="rotate(17 286.3 397.7)"/>
<ellipse cx="320.1" cy="399.6" rx="2.2" ry="1.5" fill="#2c2a6c" opacity="0.64" transform="rotate(138 320.1 399.6)"/>
<ellipse cx="279.9" cy="362.8" rx="1.9" ry="1.2" fill="#2c2a6c" opacity="0.69" transform="rotate(149 279.9 362.8)"/>
<ellipse cx="323.0" cy="396.1" rx="2.1" ry="1.3" fill="#2c2a6c" opacity="0.75" transform="rotate(66 323.0 396.1)"/>
<ellipse cx="307.2" cy="395.6" rx="2.5" ry="1.5" fill="#2c2a6c" opacity="0.78" transform="rotate(124 307.2 395.6)"/>
<ellipse cx="333.3" cy="408.7" rx="2.5" ry="1.2" fill="#2c2a6c" opacity="0.69" transform="rotate(80 333.3 408.7)"/>
<ellipse cx="298.2" cy="392.3" rx="2.3" ry="1.3" fill="#2c2a6c" opacity="0.68" transform="rotate(154 298.2 392.3)"/>
<ellipse cx="277.0" cy="374.8" rx="2.0" ry="1.3" fill="#2c2a6c" opacity="0.87" transform="rotate(31 277.0 374.8)"/>
<ellipse cx="340.0" cy="401.4" rx="2.5" ry="1.6" fill="#2c2a6c" opacity="0.74" transform="rotate(87 340.0 401.4)"/>
<ellipse cx="341.5" cy="356.4" rx="1.8" ry="1.5" fill="#2c2a6c" opacity="0.90" transform="rotate(47 341.5 356.4)"/>
<ellipse cx="339.9" cy="360.2" rx="2.4" ry="1.1" fill="#2c2a6c" opacity="0.72" transform="rotate(104 339.9 360.2)"/>
<ellipse cx="320.6" cy="411.7" rx="1.7" ry="1.3" fill="#2c2a6c" opacity="0.83" transform="rotate(98 320.6 411.7)"/>
<ellipse cx="348.2" cy="366.6" rx="2.0" ry="1.5" fill="#2c2a6c" opacity="0.83" transform="rotate(136 348.2 366.6)"/>
<ellipse cx="337.7" cy="358.2" rx="2.4" ry="1.4" fill="#2c2a6c" opacity="0.64" transform="rotate(173 337.7 358.2)"/>
<ellipse cx="327.9" cy="381.6" rx="2.4" ry="1.2" fill="#2c2a6c" opacity="0.91" transform="rotate(116 327.9 381.6)"/>
<ellipse cx="321.6" cy="380.7" rx="2.0" ry="1.2" fill="#2c2a6c" opacity="0.62" transform="rotate(82 321.6 380.7)"/>
<ellipse cx="330.7" cy="396.1" rx="2.0" ry="1.3" fill="#2c2a6c" opacity="0.73" transform="rotate(133 330.7 396.1)"/>
<ellipse cx="317.2" cy="397.5" rx="1.7" ry="1.3" fill="#2c2a6c" opacity="0.63" transform="rotate(152 317.2 397.5)"/>
<ellipse cx="283.9" cy="398.0" rx="1.8" ry="1.3" fill="#2c2a6c" opacity="0.86" transform="rotate(33 283.9 398.0)"/>
<ellipse cx="338.5" cy="395.7" rx="2.1" ry="1.2" fill="#2c2a6c" opacity="0.78" transform="rotate(26 338.5 395.7)"/>
<ellipse cx="319.3" cy="353.3" rx="1.6" ry="1.6" fill="#2c2a6c" opacity="0.91" transform="rotate(141 319.3 353.3)"/>
<ellipse cx="348.9" cy="367.3" rx="2.4" ry="1.7" fill="#2c2a6c" opacity="0.84" transform="rotate(105 348.9 367.3)"/>
<ellipse cx="298.4" cy="404.3" rx="2.5" ry="1.1" fill="#2c2a6c" opacity="0.87" transform="rotate(108 298.4 404.3)"/>
<ellipse cx="326.6" cy="375.8" rx="1.8" ry="1.4" fill="#2c2a6c" opacity="0.61" transform="rotate(83 326.6 375.8)"/>
<ellipse cx="314.0" cy="387.7" rx="2.8" ry="1.6" fill="#2c2a6c" opacity="0.65" transform="rotate(102 314.0 387.7)"/>
<ellipse cx="336.7" cy="386.0" rx="1.9" ry="1.1" fill="#2c2a6c" opacity="0.79" transform="rotate(65 336.7 386.0)"/>
<ellipse cx="321.8" cy="409.5" rx="2.0" ry="1.6" fill="#2c2a6c" opacity="0.93" transform="rotate(133 321.8 409.5)"/>
<ellipse cx="342.0" cy="371.5" rx="1.7" ry="1.1" fill="#2c2a6c" opacity="0.63" transform="rotate(87 342.0 371.5)"/>
<ellipse cx="290.7" cy="350.1" rx="2.2" ry="1.4" fill="#2c2a6c" opacity="0.83" transform="rotate(126 290.7 350.1)"/>
<ellipse cx="331.0" cy="366.1" rx="2.3" ry="1.2" fill="#2c2a6c" opacity="0.60" transform="rotate(95 331.0 366.1)"/>
<ellipse cx="291.4" cy="398.4" rx="1.8" ry="1.2" fill="#2c2a6c" opacity="0.66" transform="rotate(83 291.4 398.4)"/>
<ellipse cx="306.5" cy="350.7" rx="1.8" ry="1.4" fill="#2c2a6c" opacity="0.62" transform="rotate(20 306.5 350.7)"/>
<ellipse cx="276.9" cy="372.4" rx="1.7" ry="1.3" fill="#2c2a6c" opacity="0.74" transform="rotate(127 276.9 372.4)"/>
<ellipse cx="312.0" cy="350.4" rx="1.7" ry="1.1" fill="#2c2a6c" opacity="0.85" transform="rotate(62 312.0 350.4)"/>
<ellipse cx="296.5" cy="398.7" rx="2.0" ry="1.2" fill="#2c2a6c" opacity="0.69" transform="rotate(168 296.5 398.7)"/>
<ellipse cx="338.4" cy="386.4" rx="2.4" ry="1.7" fill="#2c2a6c" opacity="0.81" transform="rotate(17 338.4 386.4)"/>
<ellipse cx="326.0" cy="407.5" rx="2.2" ry="1.6" fill="#2c2a6c" opacity="0.92" transform="rotate(175 326.0 407.5)"/>
<ellipse cx="282.0" cy="360.4" rx="2.1" ry="1.3" fill="#2c2a6c" opacity="0.84" transform="rotate(21 282.0 360.4)"/>
<ellipse cx="332.6" cy="394.6" rx="2.7" ry="1.3" fill="#2c2a6c" opacity="0.75" transform="rotate(100 332.6 394.6)"/>
<ellipse cx="293.0" cy="398.1" rx="1.8" ry="1.5" fill="#2c2a6c" opacity="0.81" transform="rotate(49 293.0 398.1)"/>
<ellipse cx="330.3" cy="367.6" rx="2.5" ry="1.1" fill="#2c2a6c" opacity="0.76" transform="rotate(28 330.3 367.6)"/>
<ellipse cx="334.1" cy="390.2" rx="2.6" ry="1.5" fill="#2c2a6c" opacity="0.91" transform="rotate(43 334.1 390.2)"/>
<ellipse cx="332.1" cy="363.5" rx="2.1" ry="1.7" fill="#2c2a6c" opacity="0.64" transform="rotate(13 332.1 363.5)"/>
<ellipse cx="319.3" cy="346.1" rx="1.9" ry="1.1" fill="#2c2a6c" opacity="0.65" transform="rotate(117 319.3 346.1)"/>
<ellipse cx="325.2" cy="383.0" rx="2.8" ry="1.2" fill="#2c2a6c" opacity="0.80" transform="rotate(41 325.2 383.0)"/>
<ellipse cx="307.8" cy="398.2" rx="2.2" ry="1.2" fill="#2c2a6c" opacity="0.66" transform="rotate(142 307.8 398.2)"/>
<ellipse cx="323.0" cy="387.4" rx="2.0" ry="1.5" fill="#2c2a6c" opacity="0.76" transform="rotate(157 323.0 387.4)"/>
<ellipse cx="321.3" cy="400.8" rx="2.2" ry="1.5" fill="#2c2a6c" opacity="0.63" transform="rotate(97 321.3 400.8)"/>
<ellipse cx="318.1" cy="394.7" rx="2.3" ry="1.2" fill="#2c2a6c" opacity="0.72" transform="rotate(117 318.1 394.7)"/>
<ellipse cx="308.6" cy="344.1" rx="2.7" ry="1.5" fill="#2c2a6c" opacity="0.91" transform="rotate(30 308.6 344.1)"/>
<ellipse cx="347.5" cy="379.2" rx="2.7" ry="1.7" fill="#2c2a6c" opacity="0.77" transform="rotate(171 347.5 379.2)"/>
<ellipse cx="331.3" cy="360.4" rx="1.6" ry="1.5" fill="#2c2a6c" opacity="0.70" transform="rotate(115 331.3 360.4)"/>
<ellipse cx="333.2" cy="359.9" rx="2.1" ry="1.1" fill="#2c2a6c" opacity="0.65" transform="rotate(54 333.2 359.9)"/>
<ellipse cx="304.1" cy="350.1" rx="2.2" ry="1.4" fill="#2c2a6c" opacity="0.73" transform="rotate(83 304.1 350.1)"/>
<ellipse cx="341.4" cy="359.7" rx="2.6" ry="1.3" fill="#2c2a6c" opacity="0.68" transform="rotate(160 341.4 359.7)"/>
<ellipse cx="291.0" cy="397.4" rx="2.5" ry="1.7" fill="#2c2a6c" opacity="0.61" transform="rotate(176 291.0 397.4)"/>
<ellipse cx="317.6" cy="344.9" rx="2.6" ry="1.4" fill="#2c2a6c" opacity="0.69" transform="rotate(45 317.6 344.9)"/>
<ellipse cx="278.6" cy="370.9" rx="2.7" ry="1.6" fill="#2c2a6c" opacity="0.69" transform="rotate(122 278.6 370.9)"/>
<ellipse cx="285.7" cy="396.4" rx="2.6" ry="1.4" fill="#2c2a6c" opacity="0.70" transform="rotate(92 285.7 396.4)"/>
<ellipse cx="338.4" cy="384.4" rx="1.8" ry="1.2" fill="#2c2a6c" opacity="0.84" transform="rotate(93 338.4 384.4)"/>
<ellipse cx="307.2" cy="403.6" rx="2.3" ry="1.1" fill="#2c2a6c" opacity="0.80" transform="rotate(168 307.2 403.6)"/>
<ellipse cx="330.2" cy="408.3" rx="2.0" ry="1.4" fill="#2c2a6c" opacity="0.91" transform="rotate(120 330.2 408.3)"/>
<ellipse cx="349.7" cy="387.5" rx="1.8" ry="1.3" fill="#2c2a6c" opacity="0.89" transform="rotate(166 349.7 387.5)"/>
<ellipse cx="348.4" cy="362.2" rx="1.8" ry="1.3" fill="#2c2a6c" opacity="0.94" transform="rotate(51 348.4 362.2)"/>
<ellipse cx="316.0" cy="395.3" rx="2.6" ry="1.1" fill="#2c2a6c" opacity="0.70" transform="rotate(114 316.0 395.3)"/>
<ellipse cx="317.6" cy="341.3" rx="1.8" ry="1.6" fill="#2c2a6c" opacity="0.66" transform="rotate(172 317.6 341.3)"/>
<ellipse cx="325.4" cy="348.6" rx="1.8" ry="1.2" fill="#2c2a6c" opacity="0.89" transform="rotate(137 325.4 348.6)"/>
<ellipse cx="349.8" cy="379.1" rx="2.1" ry="1.7" fill="#2c2a6c" opacity="0.70" transform="rotate(19 349.8 379.1)"/>
<ellipse cx="302.7" cy="411.4" rx="2.0" ry="1.1" fill="#2c2a6c" opacity="0.72" transform="rotate(127 302.7 411.4)"/>
<ellipse cx="333.3" cy="398.3" rx="2.2" ry="1.4" fill="#2c2a6c" opacity="0.79" transform="rotate(84 333.3 398.3)"/>
<ellipse cx="339.8" cy="353.2" rx="2.6" ry="1.2" fill="#2c2a6c" opacity="0.94" transform="rotate(168 339.8 353.2)"/>
<ellipse cx="340.4" cy="350.6" rx="1.7" ry="1.7" fill="#2c2a6c" opacity="0.74" transform="rotate(36 340.4 350.6)"/>
<ellipse cx="328.4" cy="378.4" rx="2.2" ry="1.4" fill="#2c2a6c" opacity="0.65" transform="rotate(17 328.4 378.4)"/>
<ellipse cx="296.1" cy="347.2" rx="2.0" ry="1.5" fill="#2c2a6c" opacity="0.70" transform="rotate(132 296.1 347.2)"/>
<ellipse cx="350.2" cy="372.7" rx="2.6" ry="1.7" fill="#2c2a6c" opacity="0.78" transform="rotate(96 350.2 372.7)"/>
<ellipse cx="309.5" cy="385.5" rx="2.6" ry="1.6" fill="#2c2a6c" opacity="0.62" transform="rotate(77 309.5 385.5)"/>
<ellipse cx="330.4" cy="365.7" rx="2.1" ry="1.3" fill="#2c2a6c" opacity="0.83" transform="rotate(91 330.4 365.7)"/>
<ellipse cx="343.1" cy="383.0" rx="2.0" ry="1.5" fill="#2c2a6c" opacity="0.65" transform="rotate(40 343.1 383.0)"/>
<ellipse cx="281.5" cy="362.5" rx="2.2" ry="1.7" fill="#2c2a6c" opacity="0.79" transform="rotate(5 281.5 362.5)"/>
<ellipse cx="332.4" cy="401.9" rx="2.1" ry="1.5" fill="#2c2a6c" opacity="0.64" transform="rotate(164 332.4 401.9)"/>
<ellipse cx="343.5" cy="367.0" rx="1.9" ry="1.2" fill="#2c2a6c" opacity="0.89" transform="rotate(160 343.5 367.0)"/>
<ellipse cx="321.7" cy="344.2" rx="1.6" ry="1.6" fill="#2c2a6c" opacity="0.66" transform="rotate(63 321.7 344.2)"/>
<ellipse cx="308.8" cy="386.4" rx="1.7" ry="1.7" fill="#2c2a6c" opacity="0.84" transform="rotate(79 308.8 386.4)"/>
<ellipse cx="308.0" cy="407.0" rx="2.1" ry="1.4" fill="#2c2a6c" opacity="0.91" transform="rotate(60 308.0 407.0)"/>
<ellipse cx="347.8" cy="378.2" rx="1.9" ry="1.4" fill="#2c2a6c" opacity="0.90" transform="rotate(15 347.8 378.2)"/>
<ellipse cx="326.5" cy="378.6" rx="2.7" ry="1.2" fill="#2c2a6c" opacity="0.79" transform="rotate(54 326.5 378.6)"/>
<ellipse cx="332.5" cy="353.4" rx="2.0" ry="1.2" fill="#2c2a6c" opacity="0.90" transform="rotate(78 332.5 353.4)"/>
<ellipse cx="278.1" cy="376.3" rx="2.6" ry="1.1" fill="#2c2a6c" opacity="0.74" transform="rotate(153 278.1 376.3)"/>
<ellipse cx="305.4" cy="351.4" rx="2.4" ry="1.3" fill="#2c2a6c" opacity="0.64" transform="rotate(47 305.4 351.4)"/>
<ellipse cx="294.3" cy="391.9" rx="2.3" ry="1.2" fill="#2c2a6c" opacity="0.86" transform="rotate(121 294.3 391.9)"/>
<ellipse cx="336.2" cy="404.3" rx="1.9" ry="1.6" fill="#2c2a6c" opacity="0.84" transform="rotate(104 336.2 404.3)"/>
<ellipse cx="312.7" cy="351.5" rx="2.5" ry="1.5" fill="#2c2a6c" opacity="0.64" transform="rotate(61 312.7 351.5)"/>
<ellipse cx="316.2" cy="403.6" rx="2.6" ry="1.4" fill="#2c2a6c" opacity="0.77" transform="rotate(97 316.2 403.6)"/>
<ellipse cx="320.4" cy="401.5" rx="2.5" ry="1.4" fill="#2c2a6c" opacity="0.71" transform="rotate(17 320.4 401.5)"/>
<ellipse cx="340.1" cy="395.6" rx="2.4" ry="1.5" fill="#2c2a6c" opacity="0.72" transform="rotate(2 340.1 395.6)"/>
<ellipse cx="329.3" cy="381.3" rx="2.3" ry="1.3" fill="#2c2a6c" opacity="0.85" transform="rotate(20 329.3 381.3)"/>
<ellipse cx="279.5" cy="375.0" rx="1.8" ry="1.2" fill="#2c2a6c" opacity="0.79" transform="rotate(91 279.5 375.0)"/>
<ellipse cx="282.8" cy="392.2" rx="2.1" ry="1.7" fill="#2c2a6c" opacity="0.71" transform="rotate(41 282.8 392.2)"/>
<ellipse cx="334.4" cy="350.4" rx="2.2" ry="1.3" fill="#2c2a6c" opacity="0.90" transform="rotate(49 334.4 350.4)"/>
<ellipse cx="333.0" cy="376.7" rx="2.6" ry="1.3" fill="#2c2a6c" opacity="0.79" transform="rotate(77 333.0 376.7)"/>
<ellipse cx="320.6" cy="367.7" rx="2.4" ry="1.2" fill="#2c2a6c" opacity="0.87" transform="rotate(31 320.6 367.7)"/>
<ellipse cx="314.4" cy="411.6" rx="2.0" ry="1.1" fill="#2c2a6c" opacity="0.79" transform="rotate(131 314.4 411.6)"/>
<ellipse cx="332.6" cy="375.2" rx="2.3" ry="1.5" fill="#2c2a6c" opacity="0.81" transform="rotate(27 332.6 375.2)"/>
<ellipse cx="323.7" cy="406.2" rx="1.7" ry="1.6" fill="#2c2a6c" opacity="0.74" transform="rotate(1 323.7 406.2)"/>
<ellipse cx="322.6" cy="358.0" rx="1.9" ry="1.5" fill="#2c2a6c" opacity="0.66" transform="rotate(0 322.6 358.0)"/>
<ellipse cx="277.7" cy="377.8" rx="1.7" ry="1.6" fill="#2c2a6c" opacity="0.74" transform="rotate(175 277.7 377.8)"/>
<ellipse cx="337.7" cy="372.1" rx="1.9" ry="1.4" fill="#2c2a6c" opacity="0.88" transform="rotate(59 337.7 372.1)"/>
<ellipse cx="282.6" cy="362.1" rx="2.3" ry="1.3" fill="#2c2a6c" opacity="0.61" transform="rotate(98 282.6 362.1)"/>
<ellipse cx="334.3" cy="384.3" rx="2.2" ry="1.4" fill="#2c2a6c" opacity="0.71" transform="rotate(132 334.3 384.3)"/>
<ellipse cx="320.4" cy="386.0" rx="2.8" ry="1.2" fill="#2c2a6c" opacity="0.73" transform="rotate(23 320.4 386.0)"/>
<ellipse cx="347.0" cy="369.7" rx="1.6" ry="1.5" fill="#2c2a6c" opacity="0.90" transform="rotate(85 347.0 369.7)"/>
<path d="M339,364 L343,358 L347,364 L343,362 Z" fill="#fff"/>
<path d="M310,387 L314,392 L318,387 L314,389 Z" fill="#fff"/>
<ellipse cx="314" cy="398" rx="4" ry="3" fill="#3a2a6a"/>
</g>
<circle cx="314" cy="376.4" r="38.8" fill="none" stroke="url(#bK)" stroke-width="2.4"/>

<g clip-path="url(#cN)">
<rect x="348.0" y="527.2" width="77.6" height="77.6" fill="#030303"/>
<path d="M354.9,560.8 L359.6,542.0 L370.2,530.2 L389.1,525.5 L410.2,530.2 L420.8,543.2 L423.2,560.8 L420.8,571.4 L377.3,572.6 Z" fill="#dad1d4"/>
<ellipse cx="389.6" cy="546.7" rx="15.5" ry="12.3" fill="#f0eaec" stroke="#8e7058" stroke-width="1.2" transform="rotate(-8 389.6 546.7)"/>
<path d="M377.3,559.6 L391.4,561.4 L403.2,559.6 L417.3,562.6 L417.3,568.5 L400.8,569.1 L377.3,569.1 Z" fill="#8a6a52"/>
<path d="M356.1,572.6 L414.9,571.4 L419.6,577.3 L412.6,594.9 L403.2,605.5 L374.9,605.5 L369.1,592.6 L360.8,583.2 Z" fill="#dcd3d6"/>
<path d="M386.7,583.2 L397.3,580.8 L403.2,587.9 L398.5,605.5 L386.7,605.5 Z" fill="#efe9eb"/>
<path d="M352.6,574.9 L364.4,576.1 L367.9,590.2 L363.2,597.3 L353.8,592.6 Z" fill="#cbbdbe"/>
<path d="M367.3,590.2 L373.8,590.2 L376.1,605.5 L369.1,605.5 Z" fill="#030303"/>
<path d="M353.8,551.4 L360.8,548.5 L367.3,553.8 L371.4,560.8 L377.3,565.5 L376.1,572.6 L365.5,573.8 L356.1,570.2 L353.2,563.2 Z" fill="#36c232"/>
<path d="M376.1,566.7 L391.4,565.5 L403.2,569.1 L412.6,572.0 L411.4,576.1 L400.8,574.9 L389.1,572.0 L376.1,572.6 Z" fill="#36c232"/>
<path d="M420,574 L424,572" stroke="#fff" stroke-width="1.2"/>
</g>
<circle cx="386.8" cy="566" r="38.8" fill="none" stroke="url(#bN)" stroke-width="2.4"/>

<g clip-path="url(#cF)">
<rect x="285.9" y="672.8000000000001" width="77.6" height="77.6" fill="#030303"/>
<path d="M315.3,670.7 L348.2,670.7 L360.0,684.8 L364.7,701.3 L364.7,718.9 L360.0,731.9 L341.2,738.9 L327.1,744.8 L310.6,751.9 L294.1,750.7 L297.6,736.6 L309.4,713.1 L316.5,700.1 Z" fill="#ddd4d6"/>
<path d="M318.8,673.1 L335.3,673.1 L338.8,689.5 L329.4,698.9 L321.2,697.8 Z" fill="#c7b4ae"/>
<path d="M335.3,696.6 L350.6,698.9 L356.5,710.7 L352.9,722.5 L341.2,727.2 L332.9,715.4 Z" fill="#eee8ea"/>
<path d="M345.9,713.1 L360.0,715.4 L362.4,727.2 L352.9,733.1 L345.9,727.2 Z" fill="#e4dcde"/>
<path d="M315.3,721.3 L324.7,727.2 L308.2,748.4 L298.8,746.0 Z" fill="#ece6e8"/>
<path d="M329.4,731.9 L336.5,735.4 L318.8,749.5 L311.8,748.4 Z" fill="#e8e2e4"/>
<path d="M345.9,736.6 L364.7,731.9 L364.7,750.7 L336.5,750.7 Z" fill="#030303"/>
<path d="M318.8,700.1 Q329.4,695.4 337.6,701.3 M323.5,715.4 Q331.8,722.5 338.8,733.1 M318.8,677.8 L320.0,696.6" stroke="#8a6446" stroke-width="2.2" fill="none"/>
<path d="M312.9,713.1 L320.0,710.7 L324.7,721.3 L317.6,724.8 Z" fill="#9a7458" opacity="0.6"/>
<circle cx="321" cy="713" r="3.2" fill="#3cbc34"/><circle cx="337" cy="730" r="2.4" fill="#3cbc34"/><circle cx="353" cy="736.5" r="2" fill="#3cbc34"/>
</g>
<circle cx="324.7" cy="711.6" r="38.8" fill="none" stroke="url(#bF)" stroke-width="2.4"/>

</g>

<rect x="508" y="153" width="244" height="144.5" rx="7" fill="url(#gH)"/><rect x="511" y="155" width="239" height="139.5" rx="5" fill="#fff"/>

<rect x="1" y="217" width="224" height="112.5" rx="7" fill="url(#gS)"/><rect x="4" y="219" width="219" height="107.5" rx="5" fill="#fff"/>

<rect x="1" y="351.5" width="224" height="144.5" rx="7" fill="url(#gK)"/><rect x="4" y="353.5" width="219" height="139.5" rx="5" fill="#fff"/>

<rect x="510" y="485.5" width="242" height="151.0" rx="7" fill="url(#gB)"/><rect x="513" y="487.5" width="237" height="146.0" rx="5" fill="#fff"/>

<rect x="1" y="602" width="225" height="143" rx="7" fill="url(#gF)"/><rect x="4" y="604" width="220" height="138" rx="5" fill="#fff"/>

<defs><linearGradient id="gLine" gradientUnits="userSpaceOnUse" x1="434" y1="0" x2="509" y2="0"><stop offset="0" stop-color="#d8168a"/><stop offset="1" stop-color="#7a2a98"/></linearGradient></defs>
<rect x="434" y="224.70000000000002" width="75" height="2.2" fill="url(#gLine)"/>

<rect x="224" y="307.2" width="97" height="2.2" fill="#7b2a96"/>

<rect x="224" y="376.59999999999997" width="52" height="2.2" fill="#7b2a96"/>

<rect x="425" y="570.1" width="86" height="2.2" fill="#7b2a96"/>

<rect x="225" y="710.4" width="61" height="2.2" fill="#7b2a96"/>

<g font-family='"Liberation Sans", sans-serif'><text x="532" y="207.4" font-size="15" font-weight="700" fill="#7a2a8e" textLength="54" lengthAdjust="spacingAndGlyphs">HEART:</text>
<text x="532" y="231.9" font-size="15" font-weight="400" fill="#666666" textLength="172" lengthAdjust="spacingAndGlyphs">Urate crystal deposits</text>
<text x="532" y="252.6" font-size="15" font-weight="400" fill="#666666" textLength="183.6" lengthAdjust="spacingAndGlyphs">have been found in the</text>
<text x="532" y="272.7" font-size="15" font-weight="400" fill="#666666" textLength="41.5" lengthAdjust="spacingAndGlyphs">heart</text>
<text x="574" y="268" font-size="9.5" fill="#666">2</text>
<text x="21.5" y="257.5" font-size="15" font-weight="700" fill="#7a2a8e" textLength="47.5" lengthAdjust="spacingAndGlyphs">SPINE:</text>
<text x="21.5" y="282.2" font-size="15" font-weight="400" fill="#666666" textLength="143.5" lengthAdjust="spacingAndGlyphs">Urate crystals can</text>
<text x="21.5" y="302.3" font-size="15" font-weight="400" fill="#666666" textLength="154" lengthAdjust="spacingAndGlyphs">deposit in the spine</text>
<text x="176.6" y="299" font-size="9.5" fill="#666">3</text>
<text x="16.3" y="386.5" font-size="15" font-weight="700" fill="#7a2a8e" textLength="70.8" lengthAdjust="spacingAndGlyphs">KIDNEYS:</text>
<text x="16.3" y="410.3" font-size="15" font-weight="400" fill="#666666" textLength="108.7" lengthAdjust="spacingAndGlyphs">Urate crystals</text>
<text x="16.3" y="431" font-size="15" font-weight="400" fill="#666666" textLength="115.7" lengthAdjust="spacingAndGlyphs">surrounded by</text>
<text x="16.3" y="451.5" font-size="15" font-weight="400" fill="#666666" textLength="196.5" lengthAdjust="spacingAndGlyphs">inflammation have been</text>
<text x="16.3" y="472.2" font-size="15" font-weight="400" fill="#666666" textLength="159.9" lengthAdjust="spacingAndGlyphs">found in the kidneys</text>
<text x="176.8" y="468" font-size="9.5" fill="#666">4</text>
<text x="530.9" y="528" font-size="15" font-weight="700" fill="#7a2a8e" textLength="132.3" lengthAdjust="spacingAndGlyphs">BONES &amp; JOINTS:</text>
<text x="530.9" y="551.9" font-size="15" font-weight="400" fill="#666666" textLength="195.6" lengthAdjust="spacingAndGlyphs">Tophi can be associated</text>
<text x="530.9" y="572.6" font-size="15" font-weight="400" fill="#666666" textLength="165" lengthAdjust="spacingAndGlyphs">with permanent joint</text>
<text x="530.9" y="593.3" font-size="15" font-weight="400" fill="#666666" textLength="150" lengthAdjust="spacingAndGlyphs">damage and bone</text>
<text x="530.9" y="614.3" font-size="15" font-weight="400" fill="#666666" textLength="58" lengthAdjust="spacingAndGlyphs">erosion</text>
<text x="590" y="609" font-size="9.5" fill="#666">5–7</text>
<text x="22.9" y="646" font-size="15" font-weight="700" fill="#7a2a8e" textLength="37.9" lengthAdjust="spacingAndGlyphs">FEET:</text>
<text x="22.9" y="669.4" font-size="15" font-weight="400" fill="#666666" textLength="182.5" lengthAdjust="spacingAndGlyphs">Uncontrolled gout may</text>
<text x="22.9" y="690" font-size="15" font-weight="400" fill="#666666" textLength="154.5" lengthAdjust="spacingAndGlyphs">decreases foot and</text>
<text x="22.9" y="711.4" font-size="15" font-weight="400" fill="#666666" textLength="114" lengthAdjust="spacingAndGlyphs">ankle strength</text>
<text x="137.6" y="706" font-size="9.5" fill="#666">8</text>
<text x="511.4" y="673.7" font-size="12" font-weight="400" fill="#6c6c6c" textLength="207.9" lengthAdjust="spacingAndGlyphs">Adapted with permission from BMJ</text>
<text x="511.4" y="691.5" font-size="12" font-weight="400" fill="#6c6c6c" textLength="229.3" lengthAdjust="spacingAndGlyphs">Publishing Group Limited. Park JJ, et al.</text>
<text x="511.4" y="709.7" font-size="12" fill="#6c6c6c" textLength="159" lengthAdjust="spacingAndGlyphs"><tspan font-style="italic">BMJ Open</tspan>. 2014;4:e005308.</text>
<text x="511.4" y="727.2" font-size="12" font-weight="400" fill="#6c6c6c" textLength="224.1" lengthAdjust="spacingAndGlyphs">Adapted with permission from Oxford</text>
<text x="511.4" y="745.4" font-size="12" fill="#6c6c6c" textLength="243.2" lengthAdjust="spacingAndGlyphs">University Press. Nickeleit V, et al. <tspan font-style="italic">Nephrol</tspan></text>
<text x="511.4" y="763.2" font-size="12" fill="#6c6c6c" textLength="198.2" lengthAdjust="spacingAndGlyphs"><tspan font-style="italic">Dial Transplant</tspan>. 1997;12:1832–1838.</text>
</g></svg>
</body></html>
